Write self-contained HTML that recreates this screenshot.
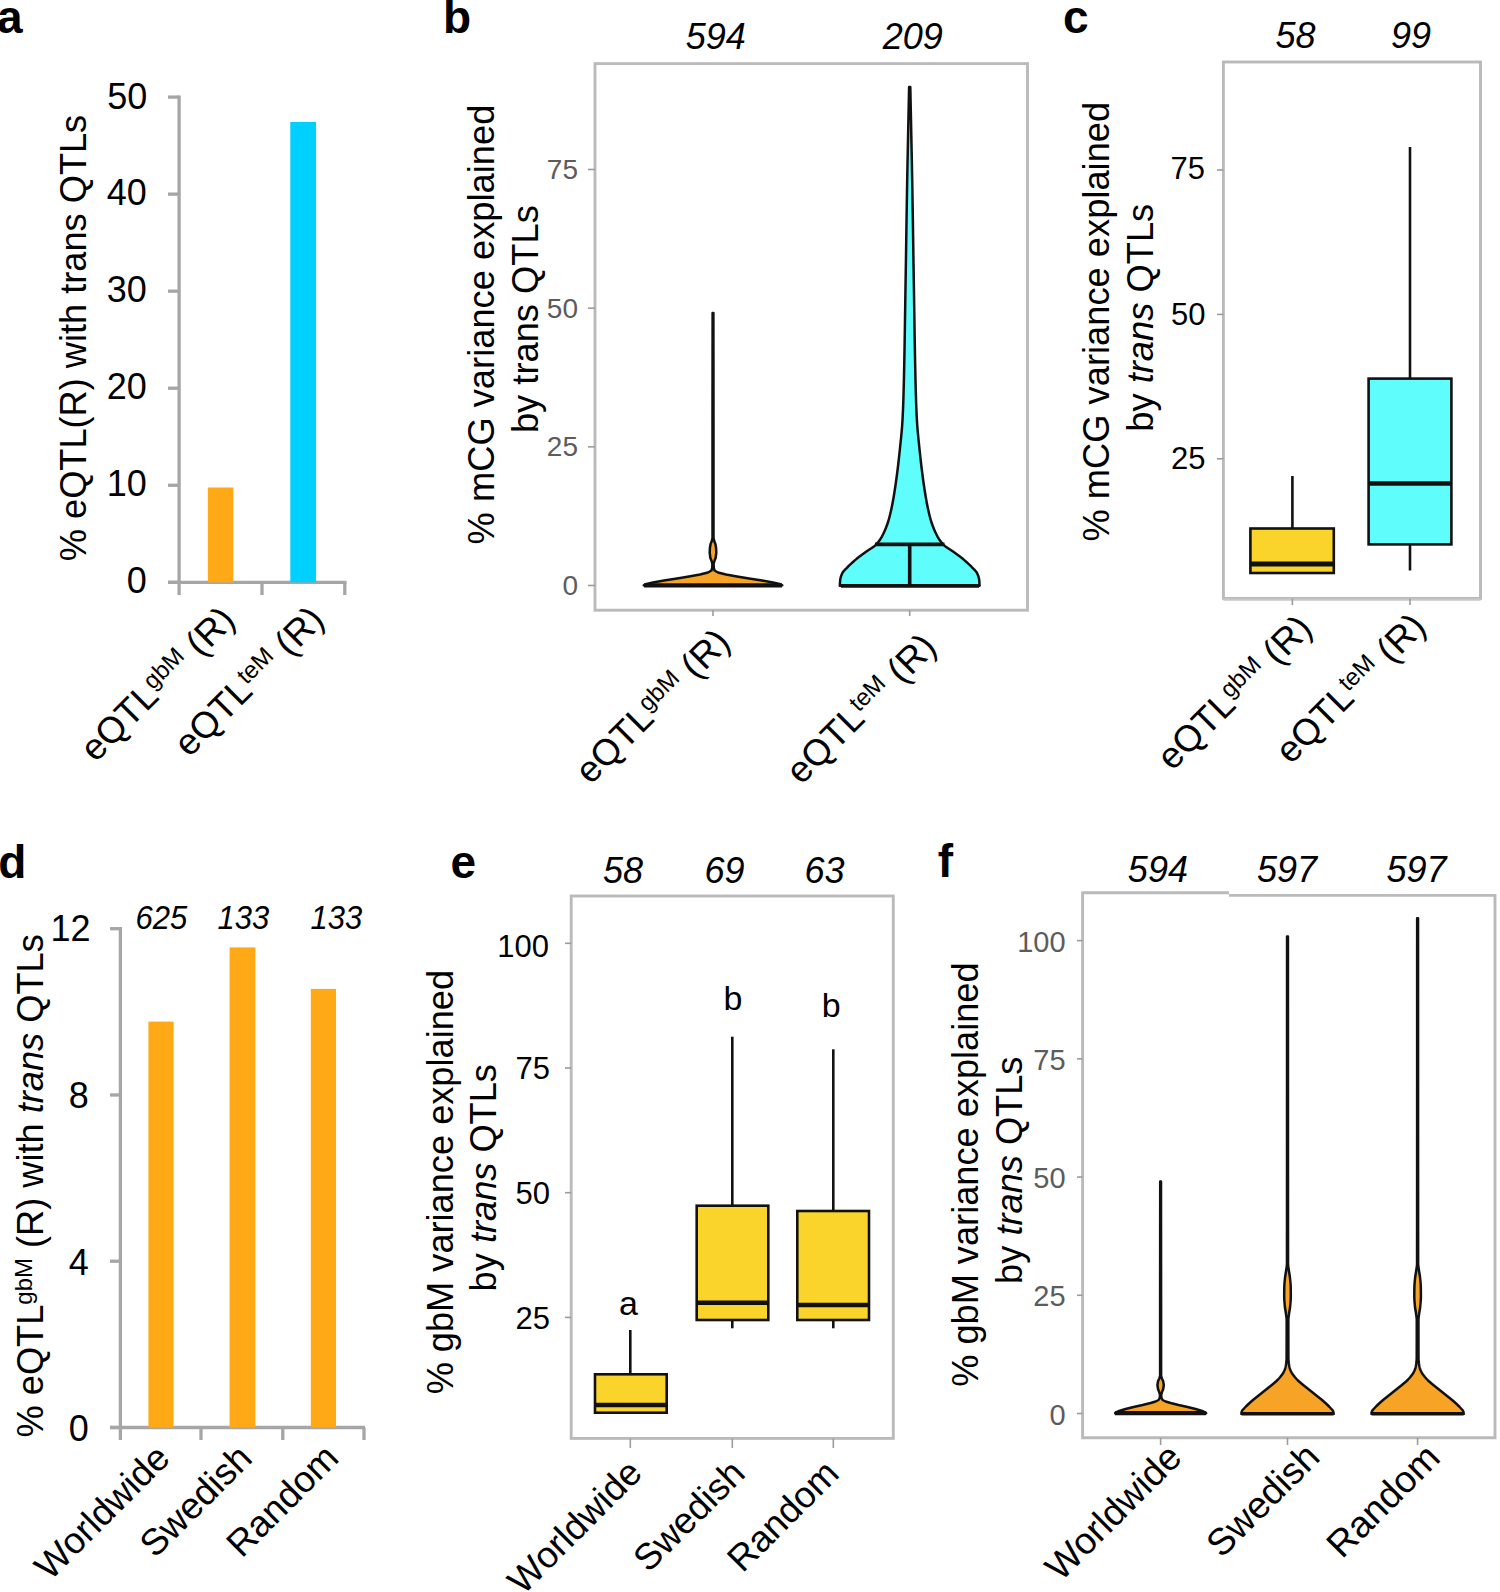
<!DOCTYPE html>
<html><head><meta charset="utf-8"><style>html,body{margin:0;padding:0;background:#fff;overflow:hidden}svg{display:block}</style></head>
<body>
<svg width="1500" height="1592" viewBox="0 0 1500 1592" font-family="Liberation Sans, sans-serif">
<rect width="1500" height="1592" fill="#fff"/>
<text id="t0" transform="translate(-3.00 33.00)" font-size="46" text-anchor="start" font-weight="bold" font-style="normal" fill="#000">a</text>
<text id="t1" transform="translate(443.00 33.00)" font-size="46" text-anchor="start" font-weight="bold" font-style="normal" fill="#000">b</text>
<text id="t2" transform="translate(1063.00 33.00)" font-size="46" text-anchor="start" font-weight="bold" font-style="normal" fill="#000">c</text>
<text id="t3" transform="translate(-1.80 878.40)" font-size="46" text-anchor="start" font-weight="bold" font-style="normal" fill="#000">d</text>
<text id="t4" transform="translate(450.55 878.40)" font-size="46" text-anchor="start" font-weight="bold" font-style="normal" fill="#000">e</text>
<text id="t5" transform="translate(937.80 877.00)" font-size="46" text-anchor="start" font-weight="bold" font-style="normal" fill="#000">f</text>
<line x1="179.1" y1="95.5" x2="179.1" y2="582.3" stroke="#a6a6a6" stroke-width="3.3" stroke-linecap="butt"/>
<line x1="168" y1="582.3" x2="179.1" y2="582.3" stroke="#a6a6a6" stroke-width="3.3" stroke-linecap="butt"/>
<line x1="168" y1="485.26" x2="179.1" y2="485.26" stroke="#a6a6a6" stroke-width="3.3" stroke-linecap="butt"/>
<line x1="168" y1="388.21999999999997" x2="179.1" y2="388.21999999999997" stroke="#a6a6a6" stroke-width="3.3" stroke-linecap="butt"/>
<line x1="168" y1="291.18" x2="179.1" y2="291.18" stroke="#a6a6a6" stroke-width="3.3" stroke-linecap="butt"/>
<line x1="168" y1="194.14" x2="179.1" y2="194.14" stroke="#a6a6a6" stroke-width="3.3" stroke-linecap="butt"/>
<line x1="168" y1="97.10000000000002" x2="179.1" y2="97.10000000000002" stroke="#a6a6a6" stroke-width="3.3" stroke-linecap="butt"/>
<text id="t6" transform="translate(146.80 593.40)" font-size="36" text-anchor="end" font-weight="normal" font-style="normal" fill="#000">0</text>
<text id="t7" transform="translate(146.80 496.36)" font-size="36" text-anchor="end" font-weight="normal" font-style="normal" fill="#000">10</text>
<text id="t8" transform="translate(146.80 399.32)" font-size="36" text-anchor="end" font-weight="normal" font-style="normal" fill="#000">20</text>
<text id="t9" transform="translate(146.80 302.28)" font-size="36" text-anchor="end" font-weight="normal" font-style="normal" fill="#000">30</text>
<text id="t10" transform="translate(146.80 205.24)" font-size="36" text-anchor="end" font-weight="normal" font-style="normal" fill="#000">40</text>
<text id="t11" transform="translate(147.40 108.70)" font-size="36" text-anchor="end" font-weight="normal" font-style="normal" fill="#000">50</text>
<line x1="168" y1="582.3" x2="346.5" y2="582.3" stroke="#a6a6a6" stroke-width="3.3" stroke-linecap="butt"/>
<line x1="179.1" y1="582.3" x2="179.1" y2="595" stroke="#a6a6a6" stroke-width="3.3" stroke-linecap="butt"/>
<line x1="262" y1="582.3" x2="262" y2="595" stroke="#a6a6a6" stroke-width="3.3" stroke-linecap="butt"/>
<line x1="344.8" y1="582.3" x2="344.8" y2="595" stroke="#a6a6a6" stroke-width="3.3" stroke-linecap="butt"/>
<rect x="207.8" y="487.5" width="25.6" height="94.79999999999995" fill="#ffa916" stroke="none" stroke-width="0"/>
<rect x="290.3" y="122" width="25.8" height="460.29999999999995" fill="#00d0ff" stroke="none" stroke-width="0"/>
<text id="t12" transform="translate(85.50 338.00) rotate(-90)" font-size="36.2" text-anchor="middle" font-weight="normal" font-style="normal" fill="#000">% eQTL(R) with trans QTLs</text>
<text id="t13" transform="translate(236.85 621.90) rotate(-45)" font-size="36.8" text-anchor="end" font-weight="normal" font-style="normal" fill="#000">eQTL<tspan font-size="24" dy="-11">gbM</tspan><tspan dy="11"> (R)</tspan></text>
<text id="t14" transform="translate(325.95 621.50) rotate(-45)" font-size="36.8" text-anchor="end" font-weight="normal" font-style="normal" fill="#000">eQTL<tspan font-size="24" dy="-11">teM</tspan><tspan dy="11"> (R)</tspan></text>
<rect x="595" y="63.6" width="432.5" height="546.6" fill="none" stroke="#bababa" stroke-width="2.9"/>
<line x1="588" y1="585.5" x2="595" y2="585.5" stroke="#9c9c9c" stroke-width="1.6" stroke-linecap="butt"/>
<text id="t15" transform="translate(578.00 595.00)" font-size="28" text-anchor="end" font-weight="normal" font-style="normal" fill="#5c5c5c">0</text>
<line x1="588" y1="446.83333333333337" x2="595" y2="446.83333333333337" stroke="#9c9c9c" stroke-width="1.6" stroke-linecap="butt"/>
<text id="t16" transform="translate(578.00 456.33)" font-size="28" text-anchor="end" font-weight="normal" font-style="normal" fill="#5c5c5c">25</text>
<line x1="588" y1="308.1666666666667" x2="595" y2="308.1666666666667" stroke="#9c9c9c" stroke-width="1.6" stroke-linecap="butt"/>
<text id="t17" transform="translate(578.00 317.67)" font-size="28" text-anchor="end" font-weight="normal" font-style="normal" fill="#5c5c5c">50</text>
<line x1="588" y1="169.5" x2="595" y2="169.5" stroke="#9c9c9c" stroke-width="1.6" stroke-linecap="butt"/>
<text id="t18" transform="translate(578.00 179.00)" font-size="28" text-anchor="end" font-weight="normal" font-style="normal" fill="#5c5c5c">75</text>
<line x1="713" y1="610.2" x2="713" y2="616" stroke="#9c9c9c" stroke-width="1.6" stroke-linecap="butt"/>
<line x1="909.7" y1="610.2" x2="909.7" y2="616" stroke="#9c9c9c" stroke-width="1.6" stroke-linecap="butt"/>
<text id="t19" transform="translate(715.75 48.75)" font-size="36" text-anchor="middle" font-weight="normal" font-style="italic" fill="#000">594</text>
<text id="t20" transform="translate(912.75 48.75)" font-size="36" text-anchor="middle" font-weight="normal" font-style="italic" fill="#000">209</text>
<text id="t21" transform="translate(494.00 324.50) rotate(-90)" font-size="36.3" text-anchor="middle" font-weight="normal" font-style="normal" fill="#000">% mCG variance explained</text>
<text id="t22" transform="translate(537.70 319.15) rotate(-90)" font-size="36.3" text-anchor="middle" font-weight="normal" font-style="normal" fill="#000">by trans QTLs</text>
<path d="M713.40,313.00 L713.50,420.00 L713.50,538.00 L714.20,541.00 L715.40,544.00 L716.10,548.00 L716.30,553.00 L715.60,558.00 L714.40,561.00 L713.60,564.00 L713.80,568.00 L714.60,570.50 L718.00,572.50 L726.00,574.50 L737.00,576.50 L749.00,578.50 L762.00,580.50 L773.00,582.50 L779.50,584.00 L782.30,585.30 L643.70,585.30 L646.50,584.00 L653.00,582.50 L664.00,580.50 L677.00,578.50 L689.00,576.50 L700.00,574.50 L708.00,572.50 L711.40,570.50 L712.20,568.00 L712.40,564.00 L711.60,561.00 L710.40,558.00 L709.70,553.00 L709.90,548.00 L710.60,544.00 L711.80,541.00 L712.50,538.00 L712.50,420.00 L712.60,313.00 Z" fill="#f6a326" stroke="#111" stroke-width="2.5" stroke-linejoin="round"/>
<path d="M910.30,87.00 L910.31,87.50 L910.32,88.00 L910.33,88.50 L910.34,89.00 L910.35,89.50 L910.36,90.00 L910.37,90.50 L910.38,91.00 L910.39,91.50 L910.40,92.00 L910.42,92.50 L910.43,93.00 L910.44,93.50 L910.45,94.00 L910.46,94.50 L910.47,95.00 L910.48,95.50 L910.49,96.00 L910.50,96.50 L910.51,97.00 L910.52,97.50 L910.53,98.00 L910.54,98.50 L910.55,99.00 L910.56,99.50 L910.57,100.00 L910.58,100.50 L910.59,101.00 L910.60,101.50 L910.62,102.00 L910.63,102.50 L910.64,103.00 L910.65,103.50 L910.66,104.00 L910.67,104.50 L910.68,105.00 L910.69,105.50 L910.70,106.00 L910.71,106.50 L910.72,107.00 L910.73,107.50 L910.74,108.00 L910.75,108.50 L910.76,109.00 L910.77,109.50 L910.78,110.00 L910.79,110.50 L910.81,111.00 L910.82,111.50 L910.83,112.00 L910.84,112.50 L910.85,113.00 L910.86,113.50 L910.87,114.00 L910.88,114.50 L910.89,115.00 L910.90,115.50 L910.91,116.00 L910.92,116.50 L910.93,117.00 L910.94,117.50 L910.95,118.00 L910.96,118.50 L910.97,119.00 L910.98,119.50 L910.99,120.00 L911.00,120.50 L911.01,121.00 L911.02,121.50 L911.04,122.00 L911.05,122.50 L911.06,123.00 L911.07,123.50 L911.08,124.00 L911.09,124.50 L911.10,125.00 L911.11,125.50 L911.12,126.00 L911.13,126.50 L911.14,127.00 L911.15,127.50 L911.16,128.00 L911.17,128.50 L911.18,129.00 L911.19,129.50 L911.20,130.00 L911.21,130.50 L911.22,131.00 L911.23,131.50 L911.24,132.00 L911.25,132.50 L911.26,133.00 L911.27,133.50 L911.28,134.00 L911.29,134.50 L911.30,135.00 L911.31,135.50 L911.32,136.00 L911.33,136.50 L911.34,137.00 L911.35,137.50 L911.36,138.00 L911.38,138.50 L911.39,139.00 L911.40,139.50 L911.41,140.00 L911.42,140.50 L911.43,141.00 L911.44,141.50 L911.45,142.00 L911.46,142.50 L911.47,143.00 L911.48,143.50 L911.49,144.00 L911.50,144.50 L911.51,145.00 L911.52,145.50 L911.53,146.00 L911.54,146.50 L911.55,147.00 L911.56,147.50 L911.57,148.00 L911.58,148.50 L911.59,149.00 L911.60,149.50 L911.61,150.00 L911.62,150.50 L911.63,151.00 L911.64,151.50 L911.65,152.00 L911.66,152.50 L911.68,153.00 L911.69,153.50 L911.70,154.00 L911.71,154.50 L911.72,155.00 L911.73,155.50 L911.74,156.00 L911.75,156.50 L911.76,157.00 L911.77,157.50 L911.78,158.00 L911.79,158.50 L911.80,159.00 L911.81,159.50 L911.82,160.00 L911.83,160.50 L911.84,161.00 L911.85,161.50 L911.86,162.00 L911.87,162.50 L911.88,163.00 L911.89,163.50 L911.90,164.00 L911.91,164.50 L911.92,165.00 L911.93,165.50 L911.94,166.00 L911.95,166.50 L911.96,167.00 L911.97,167.50 L911.98,168.00 L911.99,168.50 L911.99,169.00 L912.00,169.50 L912.01,170.00 L912.02,170.50 L912.03,171.00 L912.04,171.50 L912.05,172.00 L912.06,172.50 L912.07,173.00 L912.08,173.50 L912.09,174.00 L912.10,174.50 L912.11,175.00 L912.12,175.50 L912.13,176.00 L912.14,176.50 L912.15,177.00 L912.15,177.50 L912.16,178.00 L912.17,178.50 L912.18,179.00 L912.19,179.50 L912.20,180.00 L912.21,180.50 L912.22,181.00 L912.23,181.50 L912.24,182.00 L912.24,182.50 L912.25,183.00 L912.26,183.50 L912.27,184.00 L912.28,184.50 L912.29,185.00 L912.30,185.50 L912.31,186.00 L912.31,186.50 L912.32,187.00 L912.33,187.50 L912.34,188.00 L912.35,188.50 L912.36,189.00 L912.37,189.50 L912.37,190.00 L912.38,190.50 L912.39,191.00 L912.40,191.50 L912.41,192.00 L912.42,192.50 L912.42,193.00 L912.43,193.50 L912.44,194.00 L912.45,194.50 L912.46,195.00 L912.47,195.50 L912.47,196.00 L912.48,196.50 L912.49,197.00 L912.50,197.50 L912.51,198.00 L912.52,198.50 L912.52,199.00 L912.53,199.50 L912.54,200.00 L912.55,200.50 L912.56,201.00 L912.56,201.50 L912.57,202.00 L912.58,202.50 L912.59,203.00 L912.60,203.50 L912.60,204.00 L912.61,204.50 L912.62,205.00 L912.63,205.50 L912.64,206.00 L912.64,206.50 L912.65,207.00 L912.66,207.50 L912.67,208.00 L912.68,208.50 L912.68,209.00 L912.69,209.50 L912.70,210.00 L912.71,210.50 L912.72,211.00 L912.72,211.50 L912.73,212.00 L912.74,212.50 L912.75,213.00 L912.75,213.50 L912.76,214.00 L912.77,214.50 L912.78,215.00 L912.79,215.50 L912.79,216.00 L912.80,216.50 L912.81,217.00 L912.82,217.50 L912.82,218.00 L912.83,218.50 L912.84,219.00 L912.85,219.50 L912.85,220.00 L912.86,220.50 L912.87,221.00 L912.88,221.50 L912.88,222.00 L912.89,222.50 L912.90,223.00 L912.91,223.50 L912.92,224.00 L912.92,224.50 L912.93,225.00 L912.94,225.50 L912.95,226.00 L912.95,226.50 L912.96,227.00 L912.97,227.50 L912.98,228.00 L912.98,228.50 L912.99,229.00 L913.00,229.50 L913.01,230.00 L913.01,230.50 L913.02,231.00 L913.03,231.50 L913.04,232.00 L913.04,232.50 L913.05,233.00 L913.06,233.50 L913.07,234.00 L913.07,234.50 L913.08,235.00 L913.09,235.50 L913.10,236.00 L913.10,236.50 L913.11,237.00 L913.12,237.50 L913.13,238.00 L913.13,238.50 L913.14,239.00 L913.15,239.50 L913.16,240.00 L913.16,240.50 L913.17,241.00 L913.18,241.50 L913.19,242.00 L913.19,242.50 L913.20,243.00 L913.21,243.50 L913.22,244.00 L913.22,244.50 L913.23,245.00 L913.24,245.50 L913.25,246.00 L913.25,246.50 L913.26,247.00 L913.27,247.50 L913.28,248.00 L913.28,248.50 L913.29,249.00 L913.30,249.50 L913.31,250.00 L913.32,250.50 L913.32,251.00 L913.33,251.50 L913.34,252.00 L913.35,252.50 L913.35,253.00 L913.36,253.50 L913.37,254.00 L913.38,254.50 L913.38,255.00 L913.39,255.50 L913.40,256.00 L913.41,256.50 L913.41,257.00 L913.42,257.50 L913.43,258.00 L913.44,258.50 L913.45,259.00 L913.45,259.50 L913.46,260.00 L913.47,260.50 L913.48,261.00 L913.48,261.50 L913.49,262.00 L913.50,262.50 L913.51,263.00 L913.52,263.50 L913.52,264.00 L913.53,264.50 L913.54,265.00 L913.55,265.50 L913.56,266.00 L913.56,266.50 L913.57,267.00 L913.58,267.50 L913.59,268.00 L913.60,268.50 L913.60,269.00 L913.61,269.50 L913.62,270.00 L913.63,270.50 L913.64,271.00 L913.64,271.50 L913.65,272.00 L913.66,272.50 L913.67,273.00 L913.68,273.50 L913.68,274.00 L913.69,274.50 L913.70,275.00 L913.71,275.50 L913.72,276.00 L913.72,276.50 L913.73,277.00 L913.74,277.50 L913.75,278.00 L913.76,278.50 L913.77,279.00 L913.77,279.50 L913.78,280.00 L913.79,280.50 L913.80,281.00 L913.81,281.50 L913.82,282.00 L913.83,282.50 L913.83,283.00 L913.84,283.50 L913.85,284.00 L913.86,284.50 L913.87,285.00 L913.87,285.50 L913.88,286.00 L913.89,286.50 L913.90,287.00 L913.91,287.50 L913.92,288.00 L913.92,288.50 L913.93,289.00 L913.94,289.50 L913.95,290.00 L913.96,290.50 L913.96,291.00 L913.97,291.50 L913.98,292.00 L913.99,292.50 L913.99,293.00 L914.00,293.50 L914.01,294.00 L914.02,294.50 L914.03,295.00 L914.03,295.50 L914.04,296.00 L914.05,296.50 L914.06,297.00 L914.07,297.50 L914.07,298.00 L914.08,298.50 L914.09,299.00 L914.10,299.50 L914.10,300.00 L914.11,300.50 L914.12,301.00 L914.13,301.50 L914.13,302.00 L914.14,302.50 L914.15,303.00 L914.16,303.50 L914.16,304.00 L914.17,304.50 L914.18,305.00 L914.19,305.50 L914.20,306.00 L914.20,306.50 L914.21,307.00 L914.22,307.50 L914.23,308.00 L914.23,308.50 L914.24,309.00 L914.25,309.50 L914.26,310.00 L914.26,310.50 L914.27,311.00 L914.28,311.50 L914.29,312.00 L914.29,312.50 L914.30,313.00 L914.31,313.50 L914.32,314.00 L914.32,314.50 L914.33,315.00 L914.34,315.50 L914.35,316.00 L914.35,316.50 L914.36,317.00 L914.37,317.50 L914.38,318.00 L914.38,318.50 L914.39,319.00 L914.40,319.50 L914.41,320.00 L914.41,320.50 L914.42,321.00 L914.43,321.50 L914.44,322.00 L914.44,322.50 L914.45,323.00 L914.46,323.50 L914.47,324.00 L914.48,324.50 L914.48,325.00 L914.49,325.50 L914.50,326.00 L914.51,326.50 L914.51,327.00 L914.52,327.50 L914.53,328.00 L914.54,328.50 L914.54,329.00 L914.55,329.50 L914.56,330.00 L914.57,330.50 L914.58,331.00 L914.58,331.50 L914.59,332.00 L914.60,332.50 L914.61,333.00 L914.62,333.50 L914.62,334.00 L914.63,334.50 L914.64,335.00 L914.65,335.50 L914.66,336.00 L914.66,336.50 L914.67,337.00 L914.68,337.50 L914.69,338.00 L914.70,338.50 L914.70,339.00 L914.71,339.50 L914.72,340.00 L914.73,340.50 L914.74,341.00 L914.75,341.50 L914.75,342.00 L914.76,342.50 L914.77,343.00 L914.78,343.50 L914.79,344.00 L914.80,344.50 L914.80,345.00 L914.81,345.50 L914.82,346.00 L914.83,346.50 L914.84,347.00 L914.85,347.50 L914.86,348.00 L914.86,348.50 L914.87,349.00 L914.88,349.50 L914.89,350.00 L914.90,350.50 L914.91,351.00 L914.92,351.50 L914.93,352.00 L914.94,352.50 L914.94,353.00 L914.95,353.50 L914.96,354.00 L914.97,354.50 L914.98,355.00 L914.99,355.50 L915.00,356.00 L915.01,356.50 L915.02,357.00 L915.03,357.50 L915.04,358.00 L915.05,358.50 L915.06,359.00 L915.07,359.50 L915.08,360.00 L915.09,360.50 L915.09,361.00 L915.10,361.50 L915.11,362.00 L915.12,362.50 L915.13,363.00 L915.14,363.50 L915.15,364.00 L915.16,364.50 L915.17,365.00 L915.18,365.50 L915.19,366.00 L915.20,366.50 L915.21,367.00 L915.22,367.50 L915.24,368.00 L915.25,368.50 L915.26,369.00 L915.27,369.50 L915.28,370.00 L915.29,370.50 L915.30,371.00 L915.31,371.50 L915.32,372.00 L915.33,372.50 L915.34,373.00 L915.35,373.50 L915.36,374.00 L915.37,374.50 L915.39,375.00 L915.40,375.50 L915.41,376.00 L915.42,376.50 L915.43,377.00 L915.44,377.50 L915.45,378.00 L915.46,378.50 L915.48,379.00 L915.49,379.50 L915.50,380.00 L915.51,380.50 L915.52,381.00 L915.54,381.50 L915.55,382.00 L915.56,382.50 L915.57,383.00 L915.58,383.50 L915.60,384.00 L915.61,384.50 L915.62,385.00 L915.63,385.50 L915.65,386.00 L915.66,386.50 L915.67,387.00 L915.68,387.50 L915.70,388.00 L915.71,388.50 L915.72,389.00 L915.73,389.50 L915.75,390.00 L915.76,390.50 L915.77,391.00 L915.79,391.50 L915.80,392.00 L915.81,392.50 L915.83,393.00 L915.84,393.50 L915.85,394.00 L915.87,394.50 L915.88,395.00 L915.90,395.50 L915.91,396.00 L915.93,396.50 L915.94,397.00 L915.96,397.50 L915.97,398.00 L915.99,398.50 L916.01,399.00 L916.02,399.50 L916.04,400.00 L916.05,400.50 L916.07,401.00 L916.09,401.50 L916.11,402.00 L916.12,402.50 L916.14,403.00 L916.16,403.50 L916.18,404.00 L916.20,404.50 L916.21,405.00 L916.23,405.50 L916.25,406.00 L916.27,406.50 L916.29,407.00 L916.31,407.50 L916.33,408.00 L916.35,408.50 L916.37,409.00 L916.39,409.50 L916.42,410.00 L916.44,410.50 L916.46,411.00 L916.48,411.50 L916.50,412.00 L916.53,412.50 L916.55,413.00 L916.57,413.50 L916.60,414.00 L916.62,414.50 L916.64,415.00 L916.67,415.50 L916.69,416.00 L916.72,416.50 L916.74,417.00 L916.77,417.50 L916.79,418.00 L916.82,418.50 L916.85,419.00 L916.87,419.50 L916.90,420.00 L916.93,420.50 L916.96,421.00 L916.99,421.50 L917.02,422.00 L917.05,422.50 L917.08,423.00 L917.11,423.50 L917.15,424.00 L917.18,424.50 L917.22,425.00 L917.25,425.50 L917.29,426.00 L917.33,426.50 L917.37,427.00 L917.41,427.50 L917.45,428.00 L917.49,428.50 L917.53,429.00 L917.57,429.50 L917.61,430.00 L917.66,430.50 L917.70,431.00 L917.75,431.50 L917.79,432.00 L917.84,432.50 L917.88,433.00 L917.93,433.50 L917.98,434.00 L918.02,434.50 L918.07,435.00 L918.12,435.50 L918.17,436.00 L918.22,436.50 L918.26,437.00 L918.31,437.50 L918.36,438.00 L918.41,438.50 L918.46,439.00 L918.52,439.50 L918.57,440.00 L918.62,440.50 L918.67,441.00 L918.72,441.50 L918.77,442.00 L918.82,442.50 L918.88,443.00 L918.93,443.50 L918.98,444.00 L919.03,444.50 L919.08,445.00 L919.14,445.50 L919.19,446.00 L919.24,446.50 L919.29,447.00 L919.34,447.50 L919.40,448.00 L919.45,448.50 L919.50,449.00 L919.55,449.50 L919.60,450.00 L919.66,450.50 L919.71,451.00 L919.76,451.50 L919.81,452.00 L919.87,452.50 L919.92,453.00 L919.97,453.50 L920.03,454.00 L920.08,454.50 L920.13,455.00 L920.19,455.50 L920.24,456.00 L920.30,456.50 L920.35,457.00 L920.40,457.50 L920.46,458.00 L920.51,458.50 L920.57,459.00 L920.63,459.50 L920.68,460.00 L920.74,460.50 L920.79,461.00 L920.85,461.50 L920.91,462.00 L920.97,462.50 L921.02,463.00 L921.08,463.50 L921.14,464.00 L921.20,464.50 L921.25,465.00 L921.31,465.50 L921.37,466.00 L921.43,466.50 L921.49,467.00 L921.55,467.50 L921.61,468.00 L921.67,468.50 L921.73,469.00 L921.79,469.50 L921.86,470.00 L921.92,470.50 L921.98,471.00 L922.04,471.50 L922.11,472.00 L922.17,472.50 L922.23,473.00 L922.30,473.50 L922.36,474.00 L922.42,474.50 L922.49,475.00 L922.55,475.50 L922.62,476.00 L922.69,476.50 L922.75,477.00 L922.82,477.50 L922.89,478.00 L922.95,478.50 L923.02,479.00 L923.09,479.50 L923.16,480.00 L923.23,480.50 L923.30,481.00 L923.37,481.50 L923.44,482.00 L923.51,482.50 L923.58,483.00 L923.65,483.50 L923.72,484.00 L923.80,484.50 L923.87,485.00 L923.94,485.50 L924.02,486.00 L924.09,486.50 L924.16,487.00 L924.24,487.50 L924.31,488.00 L924.39,488.50 L924.47,489.00 L924.54,489.50 L924.62,490.00 L924.70,490.50 L924.78,491.00 L924.86,491.50 L924.94,492.00 L925.02,492.50 L925.10,493.00 L925.18,493.50 L925.26,494.00 L925.34,494.50 L925.42,495.00 L925.50,495.50 L925.59,496.00 L925.67,496.50 L925.75,497.00 L925.84,497.50 L925.92,498.00 L926.01,498.50 L926.10,499.00 L926.19,499.50 L926.27,500.00 L926.36,500.50 L926.45,501.00 L926.54,501.50 L926.64,502.00 L926.73,502.50 L926.82,503.00 L926.92,503.50 L927.01,504.00 L927.11,504.50 L927.21,505.00 L927.31,505.50 L927.41,506.00 L927.51,506.50 L927.61,507.00 L927.71,507.50 L927.82,508.00 L927.92,508.50 L928.03,509.00 L928.14,509.50 L928.25,510.00 L928.36,510.50 L928.47,511.00 L928.59,511.50 L928.70,512.00 L928.82,512.50 L928.94,513.00 L929.06,513.50 L929.18,514.00 L929.30,514.50 L929.42,515.00 L929.55,515.50 L929.68,516.00 L929.80,516.50 L929.93,517.00 L930.07,517.50 L930.20,518.00 L930.34,518.50 L930.48,519.00 L930.62,519.50 L930.76,520.00 L930.91,520.50 L931.06,521.00 L931.22,521.50 L931.38,522.00 L931.54,522.50 L931.70,523.00 L931.87,523.50 L932.04,524.00 L932.21,524.50 L932.39,525.00 L932.57,525.50 L932.76,526.00 L932.95,526.50 L933.14,527.00 L933.33,527.50 L933.53,528.00 L933.73,528.50 L933.94,529.00 L934.15,529.50 L934.36,530.00 L934.58,530.50 L934.80,531.00 L935.02,531.50 L935.25,532.00 L935.48,532.50 L935.72,533.00 L935.96,533.50 L936.20,534.00 L936.45,534.50 L936.70,535.00 L936.97,535.52 L937.24,536.04 L937.53,536.57 L937.82,537.09 L938.13,537.61 L938.44,538.13 L938.77,538.66 L939.10,539.18 L939.45,539.70 L939.81,540.22 L940.18,540.74 L940.57,541.27 L940.97,541.79 L941.38,542.31 L941.81,542.83 L942.26,543.36 L942.72,543.88 L943.20,544.40 L943.70,544.91 L944.26,545.41 L944.87,545.92 L945.52,546.43 L946.21,546.93 L946.93,547.44 L947.68,547.95 L948.44,548.45 L949.21,548.96 L949.99,549.47 L950.76,549.97 L951.52,550.48 L952.27,550.99 L953.00,551.49 L953.70,552.00 L954.38,552.51 L955.07,553.01 L955.76,553.52 L956.45,554.03 L957.14,554.53 L957.83,555.04 L958.51,555.55 L959.19,556.05 L959.86,556.56 L960.53,557.07 L961.19,557.57 L961.83,558.08 L962.47,558.59 L963.09,559.09 L963.70,559.60 L964.32,560.13 L964.94,560.66 L965.55,561.19 L966.15,561.71 L966.75,562.24 L967.34,562.77 L967.91,563.30 L968.48,563.83 L969.04,564.36 L969.60,564.89 L970.14,565.41 L970.67,565.94 L971.19,566.47 L971.70,567.00 L972.22,567.53 L972.75,568.07 L973.28,568.60 L973.82,569.13 L974.34,569.67 L974.85,570.20 L975.34,570.73 L975.80,571.27 L976.22,571.80 L976.60,572.33 L976.93,572.87 L977.20,573.40 L977.42,573.91 L977.64,574.42 L977.85,574.92 L978.04,575.43 L978.23,575.94 L978.40,576.45 L978.56,576.95 L978.70,577.46 L978.83,577.97 L978.95,578.48 L979.05,578.98 L979.13,579.49 L979.20,580.00 L979.25,580.53 L979.30,581.05 L979.34,581.58 L979.38,582.11 L979.41,582.64 L979.45,583.16 L979.47,583.69 L979.50,584.22 L979.53,584.75 L979.57,585.27 L979.60,585.80 L839.80,585.80 L839.83,585.27 L839.87,584.75 L839.90,584.22 L839.93,583.69 L839.95,583.16 L839.99,582.64 L840.02,582.11 L840.06,581.58 L840.10,581.05 L840.15,580.53 L840.20,580.00 L840.27,579.49 L840.35,578.98 L840.45,578.48 L840.57,577.97 L840.70,577.46 L840.84,576.95 L841.00,576.45 L841.17,575.94 L841.36,575.43 L841.55,574.92 L841.76,574.42 L841.98,573.91 L842.20,573.40 L842.47,572.87 L842.80,572.33 L843.18,571.80 L843.60,571.27 L844.06,570.73 L844.55,570.20 L845.06,569.67 L845.58,569.13 L846.12,568.60 L846.65,568.07 L847.18,567.53 L847.70,567.00 L848.21,566.47 L848.73,565.94 L849.26,565.41 L849.80,564.89 L850.36,564.36 L850.92,563.83 L851.49,563.30 L852.06,562.77 L852.65,562.24 L853.25,561.71 L853.85,561.19 L854.46,560.66 L855.08,560.13 L855.70,559.60 L856.31,559.09 L856.93,558.59 L857.57,558.08 L858.21,557.57 L858.87,557.07 L859.54,556.56 L860.21,556.05 L860.89,555.55 L861.57,555.04 L862.26,554.53 L862.95,554.03 L863.64,553.52 L864.33,553.01 L865.02,552.51 L865.70,552.00 L866.40,551.49 L867.13,550.99 L867.88,550.48 L868.64,549.97 L869.41,549.47 L870.19,548.96 L870.96,548.45 L871.72,547.95 L872.47,547.44 L873.19,546.93 L873.88,546.43 L874.53,545.92 L875.14,545.41 L875.70,544.91 L876.20,544.40 L876.68,543.88 L877.14,543.36 L877.59,542.83 L878.02,542.31 L878.43,541.79 L878.83,541.27 L879.22,540.74 L879.59,540.22 L879.95,539.70 L880.30,539.18 L880.63,538.66 L880.96,538.13 L881.27,537.61 L881.58,537.09 L881.87,536.57 L882.16,536.04 L882.43,535.52 L882.70,535.00 L882.95,534.50 L883.20,534.00 L883.44,533.50 L883.68,533.00 L883.92,532.50 L884.15,532.00 L884.38,531.50 L884.60,531.00 L884.82,530.50 L885.04,530.00 L885.25,529.50 L885.46,529.00 L885.67,528.50 L885.87,528.00 L886.07,527.50 L886.26,527.00 L886.45,526.50 L886.64,526.00 L886.83,525.50 L887.01,525.00 L887.19,524.50 L887.36,524.00 L887.53,523.50 L887.70,523.00 L887.86,522.50 L888.02,522.00 L888.18,521.50 L888.34,521.00 L888.49,520.50 L888.64,520.00 L888.78,519.50 L888.92,519.00 L889.06,518.50 L889.20,518.00 L889.33,517.50 L889.47,517.00 L889.60,516.50 L889.72,516.00 L889.85,515.50 L889.98,515.00 L890.10,514.50 L890.22,514.00 L890.34,513.50 L890.46,513.00 L890.58,512.50 L890.70,512.00 L890.81,511.50 L890.93,511.00 L891.04,510.50 L891.15,510.00 L891.26,509.50 L891.37,509.00 L891.48,508.50 L891.58,508.00 L891.69,507.50 L891.79,507.00 L891.89,506.50 L891.99,506.00 L892.09,505.50 L892.19,505.00 L892.29,504.50 L892.39,504.00 L892.48,503.50 L892.58,503.00 L892.67,502.50 L892.76,502.00 L892.86,501.50 L892.95,501.00 L893.04,500.50 L893.13,500.00 L893.21,499.50 L893.30,499.00 L893.39,498.50 L893.48,498.00 L893.56,497.50 L893.65,497.00 L893.73,496.50 L893.81,496.00 L893.90,495.50 L893.98,495.00 L894.06,494.50 L894.14,494.00 L894.22,493.50 L894.30,493.00 L894.38,492.50 L894.46,492.00 L894.54,491.50 L894.62,491.00 L894.70,490.50 L894.78,490.00 L894.86,489.50 L894.93,489.00 L895.01,488.50 L895.09,488.00 L895.16,487.50 L895.24,487.00 L895.31,486.50 L895.38,486.00 L895.46,485.50 L895.53,485.00 L895.60,484.50 L895.68,484.00 L895.75,483.50 L895.82,483.00 L895.89,482.50 L895.96,482.00 L896.03,481.50 L896.10,481.00 L896.17,480.50 L896.24,480.00 L896.31,479.50 L896.38,479.00 L896.45,478.50 L896.51,478.00 L896.58,477.50 L896.65,477.00 L896.71,476.50 L896.78,476.00 L896.85,475.50 L896.91,475.00 L896.98,474.50 L897.04,474.00 L897.10,473.50 L897.17,473.00 L897.23,472.50 L897.29,472.00 L897.36,471.50 L897.42,471.00 L897.48,470.50 L897.54,470.00 L897.61,469.50 L897.67,469.00 L897.73,468.50 L897.79,468.00 L897.85,467.50 L897.91,467.00 L897.97,466.50 L898.03,466.00 L898.09,465.50 L898.15,465.00 L898.20,464.50 L898.26,464.00 L898.32,463.50 L898.38,463.00 L898.43,462.50 L898.49,462.00 L898.55,461.50 L898.61,461.00 L898.66,460.50 L898.72,460.00 L898.77,459.50 L898.83,459.00 L898.89,458.50 L898.94,458.00 L899.00,457.50 L899.05,457.00 L899.10,456.50 L899.16,456.00 L899.21,455.50 L899.27,455.00 L899.32,454.50 L899.37,454.00 L899.43,453.50 L899.48,453.00 L899.53,452.50 L899.59,452.00 L899.64,451.50 L899.69,451.00 L899.74,450.50 L899.80,450.00 L899.85,449.50 L899.90,449.00 L899.95,448.50 L900.00,448.00 L900.06,447.50 L900.11,447.00 L900.16,446.50 L900.21,446.00 L900.26,445.50 L900.32,445.00 L900.37,444.50 L900.42,444.00 L900.47,443.50 L900.52,443.00 L900.58,442.50 L900.63,442.00 L900.68,441.50 L900.73,441.00 L900.78,440.50 L900.83,440.00 L900.88,439.50 L900.94,439.00 L900.99,438.50 L901.04,438.00 L901.09,437.50 L901.14,437.00 L901.18,436.50 L901.23,436.00 L901.28,435.50 L901.33,435.00 L901.38,434.50 L901.42,434.00 L901.47,433.50 L901.52,433.00 L901.56,432.50 L901.61,432.00 L901.65,431.50 L901.70,431.00 L901.74,430.50 L901.79,430.00 L901.83,429.50 L901.87,429.00 L901.91,428.50 L901.95,428.00 L901.99,427.50 L902.03,427.00 L902.07,426.50 L902.11,426.00 L902.15,425.50 L902.18,425.00 L902.22,424.50 L902.25,424.00 L902.29,423.50 L902.32,423.00 L902.35,422.50 L902.38,422.00 L902.41,421.50 L902.44,421.00 L902.47,420.50 L902.50,420.00 L902.53,419.50 L902.55,419.00 L902.58,418.50 L902.61,418.00 L902.63,417.50 L902.66,417.00 L902.68,416.50 L902.71,416.00 L902.73,415.50 L902.76,415.00 L902.78,414.50 L902.80,414.00 L902.83,413.50 L902.85,413.00 L902.87,412.50 L902.90,412.00 L902.92,411.50 L902.94,411.00 L902.96,410.50 L902.98,410.00 L903.01,409.50 L903.03,409.00 L903.05,408.50 L903.07,408.00 L903.09,407.50 L903.11,407.00 L903.13,406.50 L903.15,406.00 L903.17,405.50 L903.19,405.00 L903.20,404.50 L903.22,404.00 L903.24,403.50 L903.26,403.00 L903.28,402.50 L903.29,402.00 L903.31,401.50 L903.33,401.00 L903.35,400.50 L903.36,400.00 L903.38,399.50 L903.39,399.00 L903.41,398.50 L903.43,398.00 L903.44,397.50 L903.46,397.00 L903.47,396.50 L903.49,396.00 L903.50,395.50 L903.52,395.00 L903.53,394.50 L903.55,394.00 L903.56,393.50 L903.57,393.00 L903.59,392.50 L903.60,392.00 L903.61,391.50 L903.63,391.00 L903.64,390.50 L903.65,390.00 L903.67,389.50 L903.68,389.00 L903.69,388.50 L903.70,388.00 L903.72,387.50 L903.73,387.00 L903.74,386.50 L903.75,386.00 L903.77,385.50 L903.78,385.00 L903.79,384.50 L903.80,384.00 L903.82,383.50 L903.83,383.00 L903.84,382.50 L903.85,382.00 L903.86,381.50 L903.88,381.00 L903.89,380.50 L903.90,380.00 L903.91,379.50 L903.92,379.00 L903.94,378.50 L903.95,378.00 L903.96,377.50 L903.97,377.00 L903.98,376.50 L903.99,376.00 L904.00,375.50 L904.01,375.00 L904.03,374.50 L904.04,374.00 L904.05,373.50 L904.06,373.00 L904.07,372.50 L904.08,372.00 L904.09,371.50 L904.10,371.00 L904.11,370.50 L904.12,370.00 L904.13,369.50 L904.14,369.00 L904.15,368.50 L904.16,368.00 L904.18,367.50 L904.19,367.00 L904.20,366.50 L904.21,366.00 L904.22,365.50 L904.23,365.00 L904.24,364.50 L904.25,364.00 L904.26,363.50 L904.27,363.00 L904.28,362.50 L904.29,362.00 L904.30,361.50 L904.31,361.00 L904.31,360.50 L904.32,360.00 L904.33,359.50 L904.34,359.00 L904.35,358.50 L904.36,358.00 L904.37,357.50 L904.38,357.00 L904.39,356.50 L904.40,356.00 L904.41,355.50 L904.42,355.00 L904.43,354.50 L904.44,354.00 L904.45,353.50 L904.46,353.00 L904.46,352.50 L904.47,352.00 L904.48,351.50 L904.49,351.00 L904.50,350.50 L904.51,350.00 L904.52,349.50 L904.53,349.00 L904.54,348.50 L904.54,348.00 L904.55,347.50 L904.56,347.00 L904.57,346.50 L904.58,346.00 L904.59,345.50 L904.60,345.00 L904.60,344.50 L904.61,344.00 L904.62,343.50 L904.63,343.00 L904.64,342.50 L904.65,342.00 L904.65,341.50 L904.66,341.00 L904.67,340.50 L904.68,340.00 L904.69,339.50 L904.70,339.00 L904.70,338.50 L904.71,338.00 L904.72,337.50 L904.73,337.00 L904.74,336.50 L904.74,336.00 L904.75,335.50 L904.76,335.00 L904.77,334.50 L904.78,334.00 L904.78,333.50 L904.79,333.00 L904.80,332.50 L904.81,332.00 L904.82,331.50 L904.82,331.00 L904.83,330.50 L904.84,330.00 L904.85,329.50 L904.86,329.00 L904.86,328.50 L904.87,328.00 L904.88,327.50 L904.89,327.00 L904.89,326.50 L904.90,326.00 L904.91,325.50 L904.92,325.00 L904.92,324.50 L904.93,324.00 L904.94,323.50 L904.95,323.00 L904.96,322.50 L904.96,322.00 L904.97,321.50 L904.98,321.00 L904.99,320.50 L904.99,320.00 L905.00,319.50 L905.01,319.00 L905.02,318.50 L905.02,318.00 L905.03,317.50 L905.04,317.00 L905.05,316.50 L905.05,316.00 L905.06,315.50 L905.07,315.00 L905.08,314.50 L905.08,314.00 L905.09,313.50 L905.10,313.00 L905.11,312.50 L905.11,312.00 L905.12,311.50 L905.13,311.00 L905.14,310.50 L905.14,310.00 L905.15,309.50 L905.16,309.00 L905.17,308.50 L905.17,308.00 L905.18,307.50 L905.19,307.00 L905.20,306.50 L905.20,306.00 L905.21,305.50 L905.22,305.00 L905.23,304.50 L905.24,304.00 L905.24,303.50 L905.25,303.00 L905.26,302.50 L905.27,302.00 L905.27,301.50 L905.28,301.00 L905.29,300.50 L905.30,300.00 L905.30,299.50 L905.31,299.00 L905.32,298.50 L905.33,298.00 L905.33,297.50 L905.34,297.00 L905.35,296.50 L905.36,296.00 L905.37,295.50 L905.37,295.00 L905.38,294.50 L905.39,294.00 L905.40,293.50 L905.41,293.00 L905.41,292.50 L905.42,292.00 L905.43,291.50 L905.44,291.00 L905.44,290.50 L905.45,290.00 L905.46,289.50 L905.47,289.00 L905.48,288.50 L905.48,288.00 L905.49,287.50 L905.50,287.00 L905.51,286.50 L905.52,286.00 L905.53,285.50 L905.53,285.00 L905.54,284.50 L905.55,284.00 L905.56,283.50 L905.57,283.00 L905.57,282.50 L905.58,282.00 L905.59,281.50 L905.60,281.00 L905.61,280.50 L905.62,280.00 L905.63,279.50 L905.63,279.00 L905.64,278.50 L905.65,278.00 L905.66,277.50 L905.67,277.00 L905.68,276.50 L905.68,276.00 L905.69,275.50 L905.70,275.00 L905.71,274.50 L905.72,274.00 L905.72,273.50 L905.73,273.00 L905.74,272.50 L905.75,272.00 L905.76,271.50 L905.76,271.00 L905.77,270.50 L905.78,270.00 L905.79,269.50 L905.80,269.00 L905.80,268.50 L905.81,268.00 L905.82,267.50 L905.83,267.00 L905.84,266.50 L905.84,266.00 L905.85,265.50 L905.86,265.00 L905.87,264.50 L905.88,264.00 L905.88,263.50 L905.89,263.00 L905.90,262.50 L905.91,262.00 L905.92,261.50 L905.92,261.00 L905.93,260.50 L905.94,260.00 L905.95,259.50 L905.95,259.00 L905.96,258.50 L905.97,258.00 L905.98,257.50 L905.99,257.00 L905.99,256.50 L906.00,256.00 L906.01,255.50 L906.02,255.00 L906.02,254.50 L906.03,254.00 L906.04,253.50 L906.05,253.00 L906.05,252.50 L906.06,252.00 L906.07,251.50 L906.08,251.00 L906.08,250.50 L906.09,250.00 L906.10,249.50 L906.11,249.00 L906.12,248.50 L906.12,248.00 L906.13,247.50 L906.14,247.00 L906.15,246.50 L906.15,246.00 L906.16,245.50 L906.17,245.00 L906.18,244.50 L906.18,244.00 L906.19,243.50 L906.20,243.00 L906.21,242.50 L906.21,242.00 L906.22,241.50 L906.23,241.00 L906.24,240.50 L906.24,240.00 L906.25,239.50 L906.26,239.00 L906.27,238.50 L906.27,238.00 L906.28,237.50 L906.29,237.00 L906.30,236.50 L906.30,236.00 L906.31,235.50 L906.32,235.00 L906.33,234.50 L906.33,234.00 L906.34,233.50 L906.35,233.00 L906.36,232.50 L906.36,232.00 L906.37,231.50 L906.38,231.00 L906.39,230.50 L906.39,230.00 L906.40,229.50 L906.41,229.00 L906.42,228.50 L906.42,228.00 L906.43,227.50 L906.44,227.00 L906.45,226.50 L906.45,226.00 L906.46,225.50 L906.47,225.00 L906.48,224.50 L906.48,224.00 L906.49,223.50 L906.50,223.00 L906.51,222.50 L906.52,222.00 L906.52,221.50 L906.53,221.00 L906.54,220.50 L906.55,220.00 L906.55,219.50 L906.56,219.00 L906.57,218.50 L906.58,218.00 L906.58,217.50 L906.59,217.00 L906.60,216.50 L906.61,216.00 L906.61,215.50 L906.62,215.00 L906.63,214.50 L906.64,214.00 L906.65,213.50 L906.65,213.00 L906.66,212.50 L906.67,212.00 L906.68,211.50 L906.68,211.00 L906.69,210.50 L906.70,210.00 L906.71,209.50 L906.72,209.00 L906.72,208.50 L906.73,208.00 L906.74,207.50 L906.75,207.00 L906.76,206.50 L906.76,206.00 L906.77,205.50 L906.78,205.00 L906.79,204.50 L906.80,204.00 L906.80,203.50 L906.81,203.00 L906.82,202.50 L906.83,202.00 L906.84,201.50 L906.84,201.00 L906.85,200.50 L906.86,200.00 L906.87,199.50 L906.88,199.00 L906.88,198.50 L906.89,198.00 L906.90,197.50 L906.91,197.00 L906.92,196.50 L906.93,196.00 L906.93,195.50 L906.94,195.00 L906.95,194.50 L906.96,194.00 L906.97,193.50 L906.98,193.00 L906.98,192.50 L906.99,192.00 L907.00,191.50 L907.01,191.00 L907.02,190.50 L907.03,190.00 L907.03,189.50 L907.04,189.00 L907.05,188.50 L907.06,188.00 L907.07,187.50 L907.08,187.00 L907.09,186.50 L907.09,186.00 L907.10,185.50 L907.11,185.00 L907.12,184.50 L907.13,184.00 L907.14,183.50 L907.15,183.00 L907.16,182.50 L907.16,182.00 L907.17,181.50 L907.18,181.00 L907.19,180.50 L907.20,180.00 L907.21,179.50 L907.22,179.00 L907.23,178.50 L907.24,178.00 L907.25,177.50 L907.25,177.00 L907.26,176.50 L907.27,176.00 L907.28,175.50 L907.29,175.00 L907.30,174.50 L907.31,174.00 L907.32,173.50 L907.33,173.00 L907.34,172.50 L907.35,172.00 L907.36,171.50 L907.37,171.00 L907.38,170.50 L907.39,170.00 L907.40,169.50 L907.41,169.00 L907.41,168.50 L907.42,168.00 L907.43,167.50 L907.44,167.00 L907.45,166.50 L907.46,166.00 L907.47,165.50 L907.48,165.00 L907.49,164.50 L907.50,164.00 L907.51,163.50 L907.52,163.00 L907.53,162.50 L907.54,162.00 L907.55,161.50 L907.56,161.00 L907.57,160.50 L907.58,160.00 L907.59,159.50 L907.60,159.00 L907.61,158.50 L907.62,158.00 L907.63,157.50 L907.64,157.00 L907.65,156.50 L907.66,156.00 L907.67,155.50 L907.68,155.00 L907.69,154.50 L907.70,154.00 L907.71,153.50 L907.72,153.00 L907.74,152.50 L907.75,152.00 L907.76,151.50 L907.77,151.00 L907.78,150.50 L907.79,150.00 L907.80,149.50 L907.81,149.00 L907.82,148.50 L907.83,148.00 L907.84,147.50 L907.85,147.00 L907.86,146.50 L907.87,146.00 L907.88,145.50 L907.89,145.00 L907.90,144.50 L907.91,144.00 L907.92,143.50 L907.93,143.00 L907.94,142.50 L907.95,142.00 L907.96,141.50 L907.97,141.00 L907.98,140.50 L907.99,140.00 L908.00,139.50 L908.01,139.00 L908.02,138.50 L908.04,138.00 L908.05,137.50 L908.06,137.00 L908.07,136.50 L908.08,136.00 L908.09,135.50 L908.10,135.00 L908.11,134.50 L908.12,134.00 L908.13,133.50 L908.14,133.00 L908.15,132.50 L908.16,132.00 L908.17,131.50 L908.18,131.00 L908.19,130.50 L908.20,130.00 L908.21,129.50 L908.22,129.00 L908.23,128.50 L908.24,128.00 L908.25,127.50 L908.26,127.00 L908.27,126.50 L908.28,126.00 L908.29,125.50 L908.30,125.00 L908.31,124.50 L908.32,124.00 L908.33,123.50 L908.34,123.00 L908.35,122.50 L908.36,122.00 L908.38,121.50 L908.39,121.00 L908.40,120.50 L908.41,120.00 L908.42,119.50 L908.43,119.00 L908.44,118.50 L908.45,118.00 L908.46,117.50 L908.47,117.00 L908.48,116.50 L908.49,116.00 L908.50,115.50 L908.51,115.00 L908.52,114.50 L908.53,114.00 L908.54,113.50 L908.55,113.00 L908.56,112.50 L908.57,112.00 L908.58,111.50 L908.59,111.00 L908.61,110.50 L908.62,110.00 L908.63,109.50 L908.64,109.00 L908.65,108.50 L908.66,108.00 L908.67,107.50 L908.68,107.00 L908.69,106.50 L908.70,106.00 L908.71,105.50 L908.72,105.00 L908.73,104.50 L908.74,104.00 L908.75,103.50 L908.76,103.00 L908.77,102.50 L908.78,102.00 L908.80,101.50 L908.81,101.00 L908.82,100.50 L908.83,100.00 L908.84,99.50 L908.85,99.00 L908.86,98.50 L908.87,98.00 L908.88,97.50 L908.89,97.00 L908.90,96.50 L908.91,96.00 L908.92,95.50 L908.93,95.00 L908.94,94.50 L908.95,94.00 L908.96,93.50 L908.97,93.00 L908.98,92.50 L909.00,92.00 L909.01,91.50 L909.02,91.00 L909.03,90.50 L909.04,90.00 L909.05,89.50 L909.06,89.00 L909.07,88.50 L909.08,88.00 L909.09,87.50 L909.10,87.00 Z" fill="#60fdfd" stroke="#111" stroke-width="2.5" stroke-linejoin="round"/>
<line x1="875" y1="544.4" x2="944.5" y2="544.4" stroke="#111" stroke-width="3.6" stroke-linecap="butt"/>
<line x1="909.7" y1="544.4" x2="909.7" y2="585.8" stroke="#111" stroke-width="3.6" stroke-linecap="butt"/>
<line x1="841" y1="585.8" x2="979" y2="585.8" stroke="#111" stroke-width="3.8" stroke-linecap="butt"/>
<line x1="644" y1="585.3" x2="782" y2="585.3" stroke="#111" stroke-width="4.2" stroke-linecap="butt"/>
<text id="t23" transform="translate(732.00 644.00) rotate(-45)" font-size="36.8" text-anchor="end" font-weight="normal" font-style="normal" fill="#000">eQTL<tspan font-size="24" dy="-11">gbM</tspan><tspan dy="11"> (R)</tspan></text>
<text id="t24" transform="translate(938.10 648.95) rotate(-45)" font-size="36.8" text-anchor="end" font-weight="normal" font-style="normal" fill="#000">eQTL<tspan font-size="24" dy="-11">teM</tspan><tspan dy="11"> (R)</tspan></text>
<rect x="1223.4" y="62" width="257.0999999999999" height="536.4" fill="none" stroke="#bababa" stroke-width="2.9"/>
<line x1="1223.4" y1="599.6" x2="1480.5" y2="599.6" stroke="#c8c8c8" stroke-width="2.4" stroke-linecap="butt"/>
<line x1="1217" y1="458.79999999999995" x2="1223.4" y2="458.79999999999995" stroke="#9c9c9c" stroke-width="1.6" stroke-linecap="butt"/>
<text id="t25" transform="translate(1205.60 469.35)" font-size="31" text-anchor="end" font-weight="normal" font-style="normal" fill="#000">25</text>
<line x1="1217" y1="314.4" x2="1223.4" y2="314.4" stroke="#9c9c9c" stroke-width="1.6" stroke-linecap="butt"/>
<text id="t26" transform="translate(1205.60 325.15)" font-size="31" text-anchor="end" font-weight="normal" font-style="normal" fill="#000">50</text>
<line x1="1217" y1="170.0" x2="1223.4" y2="170.0" stroke="#9c9c9c" stroke-width="1.6" stroke-linecap="butt"/>
<text id="t27" transform="translate(1205.10 179.30)" font-size="31" text-anchor="end" font-weight="normal" font-style="normal" fill="#000">75</text>
<line x1="1292.4" y1="598.4" x2="1292.4" y2="605" stroke="#9c9c9c" stroke-width="1.6" stroke-linecap="butt"/>
<line x1="1410" y1="598.4" x2="1410" y2="605" stroke="#9c9c9c" stroke-width="1.6" stroke-linecap="butt"/>
<text id="t28" transform="translate(1295.50 48.25)" font-size="36" text-anchor="middle" font-weight="normal" font-style="italic" fill="#000">58</text>
<text id="t29" transform="translate(1411.00 48.25)" font-size="36" text-anchor="middle" font-weight="normal" font-style="italic" fill="#000">99</text>
<text id="t30" transform="translate(1109.00 321.65) rotate(-90)" font-size="36.3" text-anchor="middle" font-weight="normal" font-style="normal" fill="#000">% mCG variance explained</text>
<text id="t31" transform="translate(1152.70 317.75) rotate(-90)" font-size="36.3" text-anchor="middle" font-weight="normal" font-style="normal" fill="#000">by <tspan font-style="italic">trans</tspan> QTLs</text>
<line x1="1292.4" y1="476" x2="1292.4" y2="528.5" stroke="#111" stroke-width="2.6" stroke-linecap="butt"/>
<rect x="1250.4" y="528.5" width="83.4" height="44.5" fill="#fad42a" stroke="#111" stroke-width="2.6"/>
<line x1="1250.4" y1="564" x2="1333.8" y2="564" stroke="#111" stroke-width="5.2" stroke-linecap="butt"/>
<line x1="1410" y1="147" x2="1410" y2="378.6" stroke="#111" stroke-width="2.6" stroke-linecap="butt"/>
<line x1="1410" y1="544.4" x2="1410" y2="570.5" stroke="#111" stroke-width="2.6" stroke-linecap="butt"/>
<rect x="1368.6" y="378.6" width="82.8" height="165.8" fill="#60fdfd" stroke="#111" stroke-width="2.6"/>
<line x1="1368.6" y1="483.5" x2="1451.4" y2="483.5" stroke="#111" stroke-width="4.5" stroke-linecap="butt"/>
<text id="t32" transform="translate(1313.80 630.40) rotate(-45)" font-size="36.8" text-anchor="end" font-weight="normal" font-style="normal" fill="#000">eQTL<tspan font-size="24" dy="-11">gbM</tspan><tspan dy="11"> (R)</tspan></text>
<text id="t33" transform="translate(1427.55 628.50) rotate(-45)" font-size="36.8" text-anchor="end" font-weight="normal" font-style="normal" fill="#000">eQTL<tspan font-size="24" dy="-11">teM</tspan><tspan dy="11"> (R)</tspan></text>
<line x1="120.4" y1="927.1" x2="120.4" y2="1427.5" stroke="#a6a6a6" stroke-width="3.3" stroke-linecap="butt"/>
<line x1="110" y1="1427.5" x2="120.4" y2="1427.5" stroke="#a6a6a6" stroke-width="3.3" stroke-linecap="butt"/>
<line x1="110" y1="1261.2333333333333" x2="120.4" y2="1261.2333333333333" stroke="#a6a6a6" stroke-width="3.3" stroke-linecap="butt"/>
<line x1="110" y1="1094.9666666666667" x2="120.4" y2="1094.9666666666667" stroke="#a6a6a6" stroke-width="3.3" stroke-linecap="butt"/>
<line x1="110" y1="928.7" x2="120.4" y2="928.7" stroke="#a6a6a6" stroke-width="3.3" stroke-linecap="butt"/>
<text id="t34" transform="translate(88.80 1440.90)" font-size="36" text-anchor="end" font-weight="normal" font-style="normal" fill="#000">0</text>
<text id="t35" transform="translate(88.80 1274.63)" font-size="36" text-anchor="end" font-weight="normal" font-style="normal" fill="#000">4</text>
<text id="t36" transform="translate(88.80 1108.37)" font-size="36" text-anchor="end" font-weight="normal" font-style="normal" fill="#000">8</text>
<text id="t37" transform="translate(90.60 941.20)" font-size="36" text-anchor="end" font-weight="normal" font-style="normal" fill="#000">12</text>
<line x1="110" y1="1427.5" x2="365" y2="1427.5" stroke="#a6a6a6" stroke-width="3.3" stroke-linecap="butt"/>
<line x1="120.4" y1="1427.5" x2="120.4" y2="1440" stroke="#a6a6a6" stroke-width="3.3" stroke-linecap="butt"/>
<line x1="201" y1="1427.5" x2="201" y2="1440" stroke="#a6a6a6" stroke-width="3.3" stroke-linecap="butt"/>
<line x1="282.8" y1="1427.5" x2="282.8" y2="1440" stroke="#a6a6a6" stroke-width="3.3" stroke-linecap="butt"/>
<line x1="364" y1="1427.5" x2="364" y2="1440" stroke="#a6a6a6" stroke-width="3.3" stroke-linecap="butt"/>
<rect x="148.4" y="1021.6" width="25.2" height="405.9" fill="#ffa916" stroke="none" stroke-width="0"/>
<rect x="229.6" y="947.4" width="25.8" height="480.1" fill="#ffa916" stroke="none" stroke-width="0"/>
<rect x="310.8" y="988.9" width="25.2" height="438.6" fill="#ffa916" stroke="none" stroke-width="0"/>
<text id="t38" transform="translate(161.30 929.00) scale(1 1.1)" font-size="31" text-anchor="middle" font-weight="normal" font-style="italic" fill="#000">625</text>
<text id="t39" transform="translate(243.45 929.00) scale(1 1.1)" font-size="31" text-anchor="middle" font-weight="normal" font-style="italic" fill="#000">133</text>
<text id="t40" transform="translate(336.45 929.00) scale(1 1.1)" font-size="31" text-anchor="middle" font-weight="normal" font-style="italic" fill="#000">133</text>
<text id="t41" transform="translate(43.00 1185.85) rotate(-90)" font-size="36.2" text-anchor="middle" font-weight="normal" font-style="normal" fill="#000">% eQTL<tspan font-size="24" dy="-11">gbM</tspan><tspan dy="11"> (R) with </tspan><tspan font-style="italic">trans</tspan> QTLs</text>
<text id="t42" transform="translate(171.70 1460.10) rotate(-45)" font-size="37" text-anchor="end" font-weight="normal" font-style="normal" fill="#000">Worldwide</text>
<text id="t43" transform="translate(254.00 1460.20) rotate(-45)" font-size="37" text-anchor="end" font-weight="normal" font-style="normal" fill="#000">Swedish</text>
<text id="t44" transform="translate(340.60 1460.00) rotate(-45)" font-size="37" text-anchor="end" font-weight="normal" font-style="normal" fill="#000">Random</text>
<rect x="571.2" y="896" width="322.0999999999999" height="542.4000000000001" fill="none" stroke="#bababa" stroke-width="2.9"/>
<line x1="565" y1="1317.4" x2="571.2" y2="1317.4" stroke="#9c9c9c" stroke-width="1.6" stroke-linecap="butt"/>
<text id="t45" transform="translate(550.00 1328.80)" font-size="31" text-anchor="end" font-weight="normal" font-style="normal" fill="#000">25</text>
<line x1="565" y1="1192.7" x2="571.2" y2="1192.7" stroke="#9c9c9c" stroke-width="1.6" stroke-linecap="butt"/>
<text id="t46" transform="translate(550.00 1204.10)" font-size="31" text-anchor="end" font-weight="normal" font-style="normal" fill="#000">50</text>
<line x1="565" y1="1068.0" x2="571.2" y2="1068.0" stroke="#9c9c9c" stroke-width="1.6" stroke-linecap="butt"/>
<text id="t47" transform="translate(550.00 1079.40)" font-size="31" text-anchor="end" font-weight="normal" font-style="normal" fill="#000">75</text>
<line x1="565" y1="943.3" x2="571.2" y2="943.3" stroke="#9c9c9c" stroke-width="1.6" stroke-linecap="butt"/>
<text id="t48" transform="translate(548.90 957.25)" font-size="31" text-anchor="end" font-weight="normal" font-style="normal" fill="#000">100</text>
<line x1="630.3" y1="1438.4" x2="630.3" y2="1448" stroke="#9c9c9c" stroke-width="1.6" stroke-linecap="butt"/>
<line x1="732.3" y1="1438.4" x2="732.3" y2="1448" stroke="#9c9c9c" stroke-width="1.6" stroke-linecap="butt"/>
<line x1="833.3" y1="1438.4" x2="833.3" y2="1448" stroke="#9c9c9c" stroke-width="1.6" stroke-linecap="butt"/>
<text id="t49" transform="translate(623.05 882.60)" font-size="36" text-anchor="middle" font-weight="normal" font-style="italic" fill="#000">58</text>
<text id="t50" transform="translate(724.50 882.60)" font-size="36" text-anchor="middle" font-weight="normal" font-style="italic" fill="#000">69</text>
<text id="t51" transform="translate(824.55 882.60)" font-size="36" text-anchor="middle" font-weight="normal" font-style="italic" fill="#000">63</text>
<text id="t52" transform="translate(452.70 1182.15) rotate(-90)" font-size="36.2" text-anchor="middle" font-weight="normal" font-style="normal" fill="#000">% gbM variance explained</text>
<text id="t53" transform="translate(496.00 1177.75) rotate(-90)" font-size="36.2" text-anchor="middle" font-weight="normal" font-style="normal" fill="#000">by <tspan font-style="italic">trans</tspan> QTLs</text>
<line x1="630.3" y1="1330" x2="630.3" y2="1374.3" stroke="#111" stroke-width="2.6" stroke-linecap="butt"/>
<rect x="595" y="1374.3" width="71.7" height="38.4" fill="#fad42a" stroke="#111" stroke-width="2.6"/>
<line x1="595" y1="1405" x2="666.7" y2="1405" stroke="#111" stroke-width="4.5" stroke-linecap="butt"/>
<line x1="732.3" y1="1036.7" x2="732.3" y2="1205.7" stroke="#111" stroke-width="2.6" stroke-linecap="butt"/>
<line x1="732.3" y1="1320" x2="732.3" y2="1328.3" stroke="#111" stroke-width="2.6" stroke-linecap="butt"/>
<rect x="696.7" y="1205.7" width="71.6" height="114.3" fill="#fad42a" stroke="#111" stroke-width="2.6"/>
<line x1="696.7" y1="1302.7" x2="768.3" y2="1302.7" stroke="#111" stroke-width="4.5" stroke-linecap="butt"/>
<line x1="833.3" y1="1049.3" x2="833.3" y2="1211" stroke="#111" stroke-width="2.6" stroke-linecap="butt"/>
<line x1="833.3" y1="1320" x2="833.3" y2="1328.3" stroke="#111" stroke-width="2.6" stroke-linecap="butt"/>
<rect x="797.3" y="1211" width="71.7" height="109" fill="#fad42a" stroke="#111" stroke-width="2.6"/>
<line x1="797.3" y1="1305" x2="869" y2="1305" stroke="#111" stroke-width="4.5" stroke-linecap="butt"/>
<text id="t54" transform="translate(628.45 1314.55)" font-size="34" text-anchor="middle" font-weight="normal" font-style="normal" fill="#000">a</text>
<text id="t55" transform="translate(733.05 1009.50)" font-size="34" text-anchor="middle" font-weight="normal" font-style="normal" fill="#000">b</text>
<text id="t56" transform="translate(831.25 1016.50)" font-size="34" text-anchor="middle" font-weight="normal" font-style="normal" fill="#000">b</text>
<text id="t57" transform="translate(644.05 1474.90) rotate(-45)" font-size="36.8" text-anchor="end" font-weight="normal" font-style="normal" fill="#000">Worldwide</text>
<text id="t58" transform="translate(746.95 1475.25) rotate(-45)" font-size="36.8" text-anchor="end" font-weight="normal" font-style="normal" fill="#000">Swedish</text>
<text id="t59" transform="translate(840.95 1475.50) rotate(-45)" font-size="36.8" text-anchor="end" font-weight="normal" font-style="normal" fill="#000">Random</text>
<path d="M1082.6,892.7 H1229 M1229,895.4 H1495 V1437.7 H1082.6 V891.5" fill="none" stroke="#bababa" stroke-width="2.9"/>
<line x1="1077" y1="1413.5" x2="1082.6" y2="1413.5" stroke="#9c9c9c" stroke-width="1.6" stroke-linecap="butt"/>
<text id="t60" transform="translate(1065.55 1424.60)" font-size="29" text-anchor="end" font-weight="normal" font-style="normal" fill="#5c5c5c">0</text>
<line x1="1077" y1="1295.275" x2="1082.6" y2="1295.275" stroke="#9c9c9c" stroke-width="1.6" stroke-linecap="butt"/>
<text id="t61" transform="translate(1065.55 1306.38)" font-size="29" text-anchor="end" font-weight="normal" font-style="normal" fill="#5c5c5c">25</text>
<line x1="1077" y1="1177.05" x2="1082.6" y2="1177.05" stroke="#9c9c9c" stroke-width="1.6" stroke-linecap="butt"/>
<text id="t62" transform="translate(1065.55 1188.15)" font-size="29" text-anchor="end" font-weight="normal" font-style="normal" fill="#5c5c5c">50</text>
<line x1="1077" y1="1058.825" x2="1082.6" y2="1058.825" stroke="#9c9c9c" stroke-width="1.6" stroke-linecap="butt"/>
<text id="t63" transform="translate(1065.55 1069.92)" font-size="29" text-anchor="end" font-weight="normal" font-style="normal" fill="#5c5c5c">75</text>
<line x1="1077" y1="940.6" x2="1082.6" y2="940.6" stroke="#9c9c9c" stroke-width="1.6" stroke-linecap="butt"/>
<text id="t64" transform="translate(1065.55 951.75)" font-size="29" text-anchor="end" font-weight="normal" font-style="normal" fill="#5c5c5c">100</text>
<line x1="1160.6" y1="1437.7" x2="1160.6" y2="1445" stroke="#9c9c9c" stroke-width="1.6" stroke-linecap="butt"/>
<line x1="1287.5" y1="1437.7" x2="1287.5" y2="1445" stroke="#9c9c9c" stroke-width="1.6" stroke-linecap="butt"/>
<line x1="1417.6" y1="1437.7" x2="1417.6" y2="1445" stroke="#9c9c9c" stroke-width="1.6" stroke-linecap="butt"/>
<text id="t65" transform="translate(1157.90 881.90)" font-size="36" text-anchor="middle" font-weight="normal" font-style="italic" fill="#000">594</text>
<text id="t66" transform="translate(1287.05 881.90)" font-size="36" text-anchor="middle" font-weight="normal" font-style="italic" fill="#000">597</text>
<text id="t67" transform="translate(1416.55 881.90)" font-size="36" text-anchor="middle" font-weight="normal" font-style="italic" fill="#000">597</text>
<text id="t68" transform="translate(978.10 1174.60) rotate(-90)" font-size="36.2" text-anchor="middle" font-weight="normal" font-style="normal" fill="#000">% gbM variance explained</text>
<text id="t69" transform="translate(1021.70 1170.25) rotate(-90)" font-size="36.2" text-anchor="middle" font-weight="normal" font-style="normal" fill="#000">by <tspan font-style="italic">trans</tspan> QTLs</text>
<path d="M1161.00,1181.50 L1161.10,1300.00 L1161.10,1376.00 L1161.90,1378.50 L1163.10,1381.00 L1163.80,1385.00 L1163.20,1389.00 L1162.00,1392.00 L1161.20,1395.00 L1161.50,1398.00 L1162.60,1400.00 L1165.60,1401.50 L1170.60,1403.00 L1178.60,1405.00 L1187.60,1407.00 L1195.60,1409.00 L1202.10,1411.00 L1205.10,1412.30 L1206.10,1413.20 L1115.10,1413.20 L1116.10,1412.30 L1119.10,1411.00 L1125.60,1409.00 L1133.60,1407.00 L1142.60,1405.00 L1150.60,1403.00 L1155.60,1401.50 L1158.60,1400.00 L1159.70,1398.00 L1160.00,1395.00 L1159.20,1392.00 L1158.00,1389.00 L1157.40,1385.00 L1158.10,1381.00 L1159.30,1378.50 L1160.10,1376.00 L1160.10,1300.00 L1160.20,1181.50 Z" fill="#f6a326" stroke="#111" stroke-width="2.5" stroke-linejoin="round"/>
<line x1="1115" y1="1413.2" x2="1206" y2="1413.2" stroke="#111" stroke-width="4.2" stroke-linecap="butt"/>
<path d="M1287.95,936.50 L1287.95,937.00 L1287.95,937.50 L1287.95,938.00 L1287.95,938.50 L1287.95,939.00 L1287.95,939.50 L1287.95,940.00 L1287.95,940.50 L1287.95,941.00 L1287.95,941.50 L1287.95,942.00 L1287.95,942.50 L1287.95,943.00 L1287.95,943.50 L1287.95,944.00 L1287.95,944.50 L1287.95,945.00 L1287.95,945.50 L1287.95,946.00 L1287.95,946.50 L1287.95,947.00 L1287.95,947.50 L1287.95,948.00 L1287.95,948.50 L1287.95,949.00 L1287.95,949.50 L1287.95,950.00 L1287.95,950.50 L1287.95,951.00 L1287.95,951.50 L1287.95,952.00 L1287.95,952.50 L1287.95,953.00 L1287.95,953.50 L1287.95,954.00 L1287.95,954.50 L1287.96,955.00 L1287.96,955.50 L1287.96,956.00 L1287.96,956.50 L1287.96,957.00 L1287.96,957.50 L1287.96,958.00 L1287.96,958.50 L1287.96,959.00 L1287.96,959.50 L1287.96,960.00 L1287.96,960.50 L1287.96,961.00 L1287.96,961.50 L1287.96,962.00 L1287.96,962.50 L1287.96,963.00 L1287.96,963.50 L1287.96,964.00 L1287.96,964.50 L1287.96,965.00 L1287.96,965.50 L1287.96,966.00 L1287.96,966.50 L1287.96,967.00 L1287.96,967.50 L1287.96,968.00 L1287.96,968.50 L1287.96,969.00 L1287.96,969.50 L1287.96,970.00 L1287.96,970.50 L1287.96,971.00 L1287.96,971.50 L1287.96,972.00 L1287.96,972.50 L1287.96,973.00 L1287.96,973.50 L1287.96,974.00 L1287.96,974.50 L1287.96,975.00 L1287.96,975.50 L1287.96,976.00 L1287.96,976.50 L1287.96,977.00 L1287.96,977.50 L1287.96,978.00 L1287.96,978.50 L1287.96,979.00 L1287.96,979.50 L1287.96,980.00 L1287.96,980.50 L1287.96,981.00 L1287.96,981.50 L1287.96,982.00 L1287.96,982.50 L1287.96,983.00 L1287.96,983.50 L1287.96,984.00 L1287.96,984.50 L1287.96,985.00 L1287.96,985.50 L1287.96,986.00 L1287.96,986.50 L1287.96,987.00 L1287.96,987.50 L1287.96,988.00 L1287.96,988.50 L1287.96,989.00 L1287.96,989.50 L1287.96,990.00 L1287.96,990.50 L1287.96,991.00 L1287.96,991.50 L1287.96,992.00 L1287.96,992.50 L1287.96,993.00 L1287.96,993.50 L1287.96,994.00 L1287.96,994.50 L1287.96,995.00 L1287.96,995.50 L1287.96,996.00 L1287.96,996.50 L1287.96,997.00 L1287.96,997.50 L1287.96,998.00 L1287.96,998.50 L1287.96,999.00 L1287.96,999.50 L1287.96,1000.00 L1287.96,1000.50 L1287.96,1001.00 L1287.96,1001.50 L1287.96,1002.00 L1287.96,1002.50 L1287.96,1003.00 L1287.96,1003.50 L1287.96,1004.00 L1287.96,1004.50 L1287.96,1005.00 L1287.96,1005.50 L1287.96,1006.00 L1287.96,1006.50 L1287.96,1007.00 L1287.96,1007.50 L1287.96,1008.00 L1287.96,1008.50 L1287.96,1009.00 L1287.96,1009.50 L1287.96,1010.00 L1287.96,1010.50 L1287.97,1011.00 L1287.97,1011.50 L1287.97,1012.00 L1287.97,1012.50 L1287.97,1013.00 L1287.97,1013.50 L1287.97,1014.00 L1287.97,1014.50 L1287.97,1015.00 L1287.97,1015.50 L1287.97,1016.00 L1287.97,1016.50 L1287.97,1017.00 L1287.97,1017.50 L1287.97,1018.00 L1287.97,1018.50 L1287.97,1019.00 L1287.97,1019.50 L1287.97,1020.00 L1287.97,1020.50 L1287.97,1021.00 L1287.97,1021.50 L1287.97,1022.00 L1287.97,1022.50 L1287.97,1023.00 L1287.97,1023.50 L1287.97,1024.00 L1287.97,1024.50 L1287.97,1025.00 L1287.97,1025.50 L1287.97,1026.00 L1287.97,1026.50 L1287.97,1027.00 L1287.97,1027.50 L1287.97,1028.00 L1287.97,1028.50 L1287.97,1029.00 L1287.97,1029.50 L1287.97,1030.00 L1287.97,1030.50 L1287.97,1031.00 L1287.97,1031.50 L1287.97,1032.00 L1287.97,1032.50 L1287.97,1033.00 L1287.97,1033.50 L1287.97,1034.00 L1287.97,1034.50 L1287.97,1035.00 L1287.97,1035.50 L1287.97,1036.00 L1287.97,1036.50 L1287.97,1037.00 L1287.97,1037.50 L1287.97,1038.00 L1287.97,1038.50 L1287.97,1039.00 L1287.97,1039.50 L1287.97,1040.00 L1287.97,1040.50 L1287.97,1041.00 L1287.97,1041.50 L1287.97,1042.00 L1287.97,1042.50 L1287.97,1043.00 L1287.97,1043.50 L1287.97,1044.00 L1287.97,1044.50 L1287.97,1045.00 L1287.97,1045.50 L1287.97,1046.00 L1287.97,1046.50 L1287.97,1047.00 L1287.97,1047.50 L1287.97,1048.00 L1287.97,1048.50 L1287.97,1049.00 L1287.97,1049.50 L1287.97,1050.00 L1287.97,1050.50 L1287.97,1051.00 L1287.97,1051.50 L1287.97,1052.00 L1287.97,1052.50 L1287.97,1053.00 L1287.97,1053.50 L1287.97,1054.00 L1287.97,1054.50 L1287.97,1055.00 L1287.97,1055.50 L1287.97,1056.00 L1287.97,1056.50 L1287.97,1057.00 L1287.97,1057.50 L1287.97,1058.00 L1287.97,1058.50 L1287.97,1059.00 L1287.97,1059.50 L1287.97,1060.00 L1287.97,1060.50 L1287.97,1061.00 L1287.97,1061.50 L1287.97,1062.00 L1287.97,1062.50 L1287.97,1063.00 L1287.97,1063.50 L1287.97,1064.00 L1287.97,1064.50 L1287.97,1065.00 L1287.97,1065.50 L1287.97,1066.00 L1287.97,1066.50 L1287.97,1067.00 L1287.97,1067.50 L1287.97,1068.00 L1287.97,1068.50 L1287.97,1069.00 L1287.97,1069.50 L1287.97,1070.00 L1287.97,1070.50 L1287.97,1071.00 L1287.97,1071.50 L1287.97,1072.00 L1287.97,1072.50 L1287.97,1073.00 L1287.97,1073.50 L1287.97,1074.00 L1287.97,1074.50 L1287.97,1075.00 L1287.97,1075.50 L1287.97,1076.00 L1287.97,1076.50 L1287.97,1077.00 L1287.97,1077.50 L1287.97,1078.00 L1287.97,1078.50 L1287.97,1079.00 L1287.97,1079.50 L1287.97,1080.00 L1287.97,1080.50 L1287.97,1081.00 L1287.97,1081.50 L1287.97,1082.00 L1287.97,1082.50 L1287.97,1083.00 L1287.97,1083.50 L1287.97,1084.00 L1287.97,1084.50 L1287.97,1085.00 L1287.97,1085.50 L1287.97,1086.00 L1287.97,1086.50 L1287.97,1087.00 L1287.97,1087.50 L1287.97,1088.00 L1287.97,1088.50 L1287.97,1089.00 L1287.97,1089.50 L1287.97,1090.00 L1287.97,1090.50 L1287.97,1091.00 L1287.97,1091.50 L1287.97,1092.00 L1287.97,1092.50 L1287.97,1093.00 L1287.97,1093.50 L1287.97,1094.00 L1287.97,1094.50 L1287.98,1095.00 L1287.98,1095.50 L1287.98,1096.00 L1287.98,1096.50 L1287.98,1097.00 L1287.98,1097.50 L1287.98,1098.00 L1287.98,1098.50 L1287.98,1099.00 L1287.98,1099.50 L1287.98,1100.00 L1287.98,1100.50 L1287.98,1101.00 L1287.98,1101.50 L1287.98,1102.00 L1287.98,1102.50 L1287.98,1103.00 L1287.98,1103.50 L1287.98,1104.00 L1287.98,1104.50 L1287.98,1105.00 L1287.98,1105.50 L1287.98,1106.00 L1287.98,1106.50 L1287.98,1107.00 L1287.98,1107.50 L1287.98,1108.00 L1287.98,1108.50 L1287.98,1109.00 L1287.98,1109.50 L1287.98,1110.00 L1287.98,1110.50 L1287.98,1111.00 L1287.98,1111.50 L1287.98,1112.00 L1287.98,1112.50 L1287.98,1113.00 L1287.98,1113.50 L1287.98,1114.00 L1287.98,1114.50 L1287.98,1115.00 L1287.98,1115.50 L1287.98,1116.00 L1287.98,1116.50 L1287.98,1117.00 L1287.98,1117.50 L1287.98,1118.00 L1287.98,1118.50 L1287.98,1119.00 L1287.98,1119.50 L1287.98,1120.00 L1287.98,1120.50 L1287.98,1121.00 L1287.98,1121.50 L1287.98,1122.00 L1287.98,1122.50 L1287.98,1123.00 L1287.98,1123.50 L1287.98,1124.00 L1287.98,1124.50 L1287.98,1125.00 L1287.98,1125.50 L1287.98,1126.00 L1287.98,1126.50 L1287.98,1127.00 L1287.98,1127.50 L1287.98,1128.00 L1287.98,1128.50 L1287.98,1129.00 L1287.98,1129.50 L1287.98,1130.00 L1287.98,1130.50 L1287.98,1131.00 L1287.98,1131.50 L1287.98,1132.00 L1287.98,1132.50 L1287.98,1133.00 L1287.98,1133.50 L1287.98,1134.00 L1287.98,1134.50 L1287.98,1135.00 L1287.98,1135.50 L1287.98,1136.00 L1287.98,1136.50 L1287.98,1137.00 L1287.98,1137.50 L1287.98,1138.00 L1287.98,1138.50 L1287.98,1139.00 L1287.98,1139.50 L1287.98,1140.00 L1287.98,1140.50 L1287.98,1141.00 L1287.98,1141.50 L1287.98,1142.00 L1287.98,1142.50 L1287.98,1143.00 L1287.98,1143.50 L1287.98,1144.00 L1287.99,1144.50 L1287.99,1145.00 L1287.99,1145.50 L1287.99,1146.00 L1287.99,1146.50 L1287.99,1147.00 L1287.99,1147.50 L1287.99,1148.00 L1287.99,1148.50 L1287.99,1149.00 L1287.99,1149.50 L1287.99,1150.00 L1287.99,1150.50 L1287.99,1151.00 L1287.99,1151.50 L1287.99,1152.00 L1287.99,1152.50 L1287.99,1153.00 L1287.99,1153.50 L1287.99,1154.00 L1287.99,1154.50 L1287.99,1155.00 L1287.99,1155.50 L1287.99,1156.00 L1287.99,1156.50 L1287.99,1157.00 L1287.99,1157.50 L1287.99,1158.00 L1287.99,1158.50 L1287.99,1159.00 L1287.99,1159.50 L1287.99,1160.00 L1287.99,1160.50 L1287.99,1161.00 L1287.99,1161.50 L1287.99,1162.00 L1287.99,1162.50 L1287.99,1163.00 L1287.99,1163.50 L1287.99,1164.00 L1287.99,1164.50 L1287.99,1165.00 L1287.99,1165.50 L1287.99,1166.00 L1287.99,1166.50 L1287.99,1167.00 L1287.99,1167.50 L1287.99,1168.00 L1287.99,1168.50 L1287.99,1169.00 L1287.99,1169.50 L1287.99,1170.00 L1287.99,1170.50 L1287.99,1171.00 L1287.99,1171.50 L1287.99,1172.00 L1287.99,1172.50 L1287.99,1173.00 L1287.99,1173.50 L1287.99,1174.00 L1287.99,1174.50 L1287.99,1175.00 L1288.00,1175.50 L1288.00,1176.00 L1288.00,1176.50 L1288.00,1177.00 L1288.00,1177.50 L1288.00,1178.00 L1288.00,1178.50 L1288.00,1179.00 L1288.00,1179.50 L1288.00,1180.00 L1288.00,1180.50 L1288.00,1181.00 L1288.00,1181.50 L1288.00,1182.00 L1288.00,1182.50 L1288.00,1183.00 L1288.00,1183.50 L1288.00,1184.00 L1288.00,1184.50 L1288.00,1185.00 L1288.00,1185.50 L1288.00,1186.00 L1288.00,1186.50 L1288.00,1187.00 L1288.00,1187.50 L1288.00,1188.00 L1288.00,1188.50 L1288.00,1189.00 L1288.00,1189.50 L1288.00,1190.00 L1288.00,1190.50 L1288.00,1191.00 L1288.00,1191.50 L1288.00,1192.00 L1288.00,1192.50 L1288.00,1193.00 L1288.00,1193.50 L1288.00,1194.00 L1288.00,1194.50 L1288.00,1195.00 L1288.00,1195.50 L1288.00,1196.00 L1288.00,1196.50 L1288.00,1197.00 L1288.00,1197.50 L1288.01,1198.00 L1288.01,1198.50 L1288.01,1199.00 L1288.01,1199.50 L1288.01,1200.00 L1288.01,1200.50 L1288.01,1201.00 L1288.01,1201.50 L1288.01,1202.00 L1288.01,1202.50 L1288.01,1203.00 L1288.01,1203.50 L1288.01,1204.00 L1288.01,1204.50 L1288.01,1205.00 L1288.01,1205.50 L1288.01,1206.00 L1288.01,1206.50 L1288.01,1207.00 L1288.01,1207.50 L1288.01,1208.00 L1288.01,1208.50 L1288.01,1209.00 L1288.01,1209.50 L1288.01,1210.00 L1288.01,1210.50 L1288.01,1211.00 L1288.01,1211.50 L1288.01,1212.00 L1288.01,1212.50 L1288.01,1213.00 L1288.01,1213.50 L1288.01,1214.00 L1288.01,1214.50 L1288.01,1215.00 L1288.01,1215.50 L1288.01,1216.00 L1288.02,1216.50 L1288.02,1217.00 L1288.02,1217.50 L1288.02,1218.00 L1288.02,1218.50 L1288.02,1219.00 L1288.02,1219.50 L1288.02,1220.00 L1288.02,1220.50 L1288.02,1221.00 L1288.02,1221.50 L1288.02,1222.00 L1288.02,1222.50 L1288.02,1223.00 L1288.02,1223.50 L1288.02,1224.00 L1288.02,1224.50 L1288.02,1225.00 L1288.02,1225.50 L1288.02,1226.00 L1288.02,1226.50 L1288.02,1227.00 L1288.02,1227.50 L1288.02,1228.00 L1288.02,1228.50 L1288.02,1229.00 L1288.02,1229.50 L1288.02,1230.00 L1288.02,1230.50 L1288.02,1231.00 L1288.02,1231.50 L1288.02,1232.00 L1288.03,1232.50 L1288.03,1233.00 L1288.03,1233.50 L1288.03,1234.00 L1288.03,1234.50 L1288.03,1235.00 L1288.03,1235.50 L1288.03,1236.00 L1288.03,1236.50 L1288.03,1237.00 L1288.03,1237.50 L1288.03,1238.00 L1288.03,1238.50 L1288.03,1239.00 L1288.03,1239.50 L1288.03,1240.00 L1288.03,1240.50 L1288.03,1241.00 L1288.03,1241.50 L1288.03,1242.00 L1288.03,1242.50 L1288.03,1243.00 L1288.03,1243.50 L1288.03,1244.00 L1288.03,1244.50 L1288.03,1245.00 L1288.03,1245.50 L1288.04,1246.00 L1288.04,1246.50 L1288.04,1247.00 L1288.04,1247.50 L1288.04,1248.00 L1288.04,1248.50 L1288.04,1249.00 L1288.04,1249.50 L1288.04,1250.00 L1288.04,1250.50 L1288.04,1251.00 L1288.04,1251.50 L1288.04,1252.00 L1288.04,1252.50 L1288.04,1253.00 L1288.04,1253.50 L1288.04,1254.00 L1288.04,1254.50 L1288.04,1255.00 L1288.04,1255.50 L1288.04,1256.00 L1288.04,1256.50 L1288.04,1257.00 L1288.04,1257.50 L1288.04,1258.00 L1288.05,1258.50 L1288.05,1259.00 L1288.05,1259.50 L1288.05,1260.00 L1288.05,1260.50 L1288.05,1261.00 L1288.05,1261.50 L1288.05,1262.00 L1288.05,1262.50 L1288.05,1263.00 L1288.05,1263.50 L1288.05,1264.00 L1288.06,1264.50 L1288.09,1265.00 L1288.13,1265.50 L1288.18,1266.00 L1288.25,1266.50 L1288.32,1267.00 L1288.40,1267.50 L1288.49,1268.00 L1288.57,1268.50 L1288.65,1269.00 L1288.73,1269.50 L1288.80,1270.00 L1288.87,1270.50 L1288.94,1271.00 L1289.02,1271.50 L1289.10,1272.00 L1289.18,1272.50 L1289.27,1273.00 L1289.35,1273.50 L1289.43,1274.00 L1289.51,1274.50 L1289.59,1275.00 L1289.67,1275.50 L1289.75,1276.00 L1289.82,1276.50 L1289.88,1277.00 L1289.95,1277.50 L1290.00,1278.00 L1290.05,1278.50 L1290.10,1279.00 L1290.16,1279.50 L1290.21,1280.00 L1290.26,1280.50 L1290.31,1281.00 L1290.35,1281.50 L1290.40,1282.00 L1290.44,1282.50 L1290.49,1283.00 L1290.53,1283.50 L1290.56,1284.00 L1290.59,1284.50 L1290.62,1285.00 L1290.65,1285.50 L1290.67,1286.00 L1290.69,1286.50 L1290.70,1287.00 L1290.71,1287.50 L1290.72,1288.00 L1290.73,1288.50 L1290.74,1289.00 L1290.74,1289.50 L1290.75,1290.00 L1290.76,1290.50 L1290.77,1291.00 L1290.77,1291.50 L1290.78,1292.00 L1290.78,1292.50 L1290.79,1293.00 L1290.79,1293.50 L1290.79,1294.00 L1290.80,1294.50 L1290.80,1295.00 L1290.80,1295.50 L1290.80,1296.00 L1290.80,1296.50 L1290.79,1297.00 L1290.78,1297.50 L1290.77,1298.00 L1290.75,1298.50 L1290.73,1299.00 L1290.70,1299.50 L1290.67,1300.00 L1290.64,1300.50 L1290.61,1301.00 L1290.57,1301.50 L1290.54,1302.00 L1290.50,1302.50 L1290.46,1303.00 L1290.42,1303.50 L1290.37,1304.00 L1290.33,1304.50 L1290.29,1305.00 L1290.24,1305.50 L1290.20,1306.00 L1290.15,1306.50 L1290.10,1307.00 L1290.03,1307.50 L1289.96,1308.00 L1289.89,1308.50 L1289.81,1309.00 L1289.72,1309.50 L1289.64,1310.00 L1289.55,1310.50 L1289.46,1311.00 L1289.38,1311.50 L1289.30,1312.00 L1289.21,1312.50 L1289.14,1313.00 L1289.07,1313.50 L1289.00,1314.00 L1288.93,1314.50 L1288.87,1315.00 L1288.79,1315.50 L1288.72,1316.00 L1288.65,1316.50 L1288.58,1317.00 L1288.52,1317.50 L1288.46,1318.00 L1288.42,1318.50 L1288.38,1319.00 L1288.36,1319.50 L1288.35,1320.00 L1288.35,1320.50 L1288.35,1321.00 L1288.35,1321.50 L1288.35,1322.00 L1288.35,1322.50 L1288.35,1323.00 L1288.35,1323.50 L1288.35,1324.00 L1288.35,1324.50 L1288.35,1325.00 L1288.35,1325.50 L1288.35,1326.00 L1288.35,1326.50 L1288.35,1327.00 L1288.35,1327.50 L1288.35,1328.00 L1288.35,1328.50 L1288.35,1329.00 L1288.35,1329.50 L1288.35,1330.00 L1288.35,1330.50 L1288.35,1331.00 L1288.35,1331.50 L1288.35,1332.00 L1288.35,1332.50 L1288.35,1333.00 L1288.35,1333.50 L1288.35,1334.00 L1288.35,1334.50 L1288.35,1335.00 L1288.36,1335.50 L1288.36,1336.00 L1288.36,1336.50 L1288.36,1337.00 L1288.36,1337.50 L1288.36,1338.00 L1288.36,1338.50 L1288.36,1339.00 L1288.36,1339.50 L1288.36,1340.00 L1288.36,1340.50 L1288.36,1341.00 L1288.36,1341.50 L1288.36,1342.00 L1288.36,1342.50 L1288.36,1343.00 L1288.36,1343.50 L1288.37,1344.00 L1288.37,1344.50 L1288.37,1345.00 L1288.37,1345.50 L1288.37,1346.00 L1288.37,1346.50 L1288.37,1347.00 L1288.37,1347.50 L1288.37,1348.00 L1288.37,1348.50 L1288.37,1349.00 L1288.38,1349.50 L1288.38,1350.00 L1288.38,1350.50 L1288.38,1351.00 L1288.38,1351.50 L1288.38,1352.00 L1288.38,1352.50 L1288.38,1353.00 L1288.39,1353.50 L1288.39,1354.00 L1288.39,1354.50 L1288.39,1355.00 L1288.39,1355.50 L1288.39,1356.00 L1288.40,1356.50 L1288.40,1357.00 L1288.40,1357.50 L1288.40,1358.00 L1288.41,1358.50 L1288.43,1359.00 L1288.45,1359.50 L1288.49,1360.00 L1288.53,1360.50 L1288.58,1361.00 L1288.63,1361.50 L1288.69,1362.00 L1288.74,1362.50 L1288.80,1363.00 L1288.86,1363.50 L1288.92,1364.00 L1289.00,1364.50 L1289.08,1365.00 L1289.16,1365.50 L1289.26,1366.00 L1289.36,1366.50 L1289.46,1367.00 L1289.58,1367.50 L1289.70,1368.00 L1289.84,1368.50 L1290.00,1369.00 L1290.18,1369.50 L1290.37,1370.00 L1290.59,1370.50 L1290.81,1371.00 L1291.05,1371.50 L1291.30,1372.00 L1291.57,1372.50 L1291.86,1373.00 L1292.18,1373.50 L1292.52,1374.00 L1292.88,1374.50 L1293.24,1375.00 L1293.62,1375.50 L1294.00,1376.00 L1294.39,1376.50 L1294.79,1377.00 L1295.21,1377.50 L1295.64,1378.00 L1296.08,1378.50 L1296.54,1379.00 L1297.01,1379.50 L1297.50,1380.00 L1298.01,1380.50 L1298.53,1381.00 L1299.08,1381.50 L1299.65,1382.00 L1300.23,1382.50 L1300.82,1383.00 L1301.41,1383.50 L1302.00,1384.00 L1302.60,1384.50 L1303.21,1385.00 L1303.84,1385.50 L1304.47,1386.00 L1305.10,1386.50 L1305.74,1387.00 L1306.37,1387.50 L1307.00,1388.00 L1307.62,1388.50 L1308.25,1389.00 L1308.88,1389.50 L1309.50,1390.00 L1310.12,1390.50 L1310.75,1391.00 L1311.38,1391.50 L1312.00,1392.00 L1312.62,1392.50 L1313.25,1393.00 L1313.88,1393.50 L1314.50,1394.00 L1315.12,1394.50 L1315.75,1395.00 L1316.38,1395.50 L1317.00,1396.00 L1317.63,1396.50 L1318.26,1397.00 L1318.90,1397.50 L1319.53,1398.00 L1320.16,1398.50 L1320.79,1399.00 L1321.40,1399.50 L1322.00,1400.00 L1322.59,1400.50 L1323.17,1401.00 L1323.75,1401.50 L1324.31,1402.00 L1324.87,1402.50 L1325.42,1403.00 L1325.97,1403.50 L1326.50,1404.00 L1327.03,1404.50 L1327.55,1405.00 L1328.07,1405.50 L1328.58,1406.00 L1329.08,1406.50 L1329.56,1407.00 L1330.04,1407.50 L1330.50,1408.00 L1330.97,1408.50 L1331.46,1409.00 L1331.93,1409.50 L1332.36,1410.00 L1332.73,1410.50 L1333.00,1411.00 L1333.21,1411.56 L1333.38,1412.12 L1333.52,1412.68 L1333.65,1413.24 L1333.80,1413.80 L1241.20,1413.80 L1241.35,1413.24 L1241.48,1412.68 L1241.62,1412.12 L1241.79,1411.56 L1242.00,1411.00 L1242.27,1410.50 L1242.64,1410.00 L1243.07,1409.50 L1243.54,1409.00 L1244.03,1408.50 L1244.50,1408.00 L1244.96,1407.50 L1245.44,1407.00 L1245.92,1406.50 L1246.42,1406.00 L1246.93,1405.50 L1247.45,1405.00 L1247.97,1404.50 L1248.50,1404.00 L1249.03,1403.50 L1249.58,1403.00 L1250.13,1402.50 L1250.69,1402.00 L1251.25,1401.50 L1251.83,1401.00 L1252.41,1400.50 L1253.00,1400.00 L1253.60,1399.50 L1254.21,1399.00 L1254.84,1398.50 L1255.47,1398.00 L1256.10,1397.50 L1256.74,1397.00 L1257.37,1396.50 L1258.00,1396.00 L1258.62,1395.50 L1259.25,1395.00 L1259.88,1394.50 L1260.50,1394.00 L1261.12,1393.50 L1261.75,1393.00 L1262.38,1392.50 L1263.00,1392.00 L1263.62,1391.50 L1264.25,1391.00 L1264.88,1390.50 L1265.50,1390.00 L1266.12,1389.50 L1266.75,1389.00 L1267.38,1388.50 L1268.00,1388.00 L1268.63,1387.50 L1269.26,1387.00 L1269.90,1386.50 L1270.53,1386.00 L1271.16,1385.50 L1271.79,1385.00 L1272.40,1384.50 L1273.00,1384.00 L1273.59,1383.50 L1274.18,1383.00 L1274.77,1382.50 L1275.35,1382.00 L1275.92,1381.50 L1276.47,1381.00 L1276.99,1380.50 L1277.50,1380.00 L1277.99,1379.50 L1278.46,1379.00 L1278.92,1378.50 L1279.36,1378.00 L1279.79,1377.50 L1280.21,1377.00 L1280.61,1376.50 L1281.00,1376.00 L1281.38,1375.50 L1281.76,1375.00 L1282.12,1374.50 L1282.48,1374.00 L1282.82,1373.50 L1283.14,1373.00 L1283.43,1372.50 L1283.70,1372.00 L1283.95,1371.50 L1284.19,1371.00 L1284.41,1370.50 L1284.63,1370.00 L1284.82,1369.50 L1285.00,1369.00 L1285.16,1368.50 L1285.30,1368.00 L1285.42,1367.50 L1285.54,1367.00 L1285.64,1366.50 L1285.74,1366.00 L1285.84,1365.50 L1285.92,1365.00 L1286.00,1364.50 L1286.08,1364.00 L1286.14,1363.50 L1286.20,1363.00 L1286.26,1362.50 L1286.31,1362.00 L1286.37,1361.50 L1286.42,1361.00 L1286.47,1360.50 L1286.51,1360.00 L1286.55,1359.50 L1286.57,1359.00 L1286.59,1358.50 L1286.60,1358.00 L1286.60,1357.50 L1286.60,1357.00 L1286.60,1356.50 L1286.61,1356.00 L1286.61,1355.50 L1286.61,1355.00 L1286.61,1354.50 L1286.61,1354.00 L1286.61,1353.50 L1286.62,1353.00 L1286.62,1352.50 L1286.62,1352.00 L1286.62,1351.50 L1286.62,1351.00 L1286.62,1350.50 L1286.62,1350.00 L1286.62,1349.50 L1286.63,1349.00 L1286.63,1348.50 L1286.63,1348.00 L1286.63,1347.50 L1286.63,1347.00 L1286.63,1346.50 L1286.63,1346.00 L1286.63,1345.50 L1286.63,1345.00 L1286.63,1344.50 L1286.63,1344.00 L1286.64,1343.50 L1286.64,1343.00 L1286.64,1342.50 L1286.64,1342.00 L1286.64,1341.50 L1286.64,1341.00 L1286.64,1340.50 L1286.64,1340.00 L1286.64,1339.50 L1286.64,1339.00 L1286.64,1338.50 L1286.64,1338.00 L1286.64,1337.50 L1286.64,1337.00 L1286.64,1336.50 L1286.64,1336.00 L1286.64,1335.50 L1286.65,1335.00 L1286.65,1334.50 L1286.65,1334.00 L1286.65,1333.50 L1286.65,1333.00 L1286.65,1332.50 L1286.65,1332.00 L1286.65,1331.50 L1286.65,1331.00 L1286.65,1330.50 L1286.65,1330.00 L1286.65,1329.50 L1286.65,1329.00 L1286.65,1328.50 L1286.65,1328.00 L1286.65,1327.50 L1286.65,1327.00 L1286.65,1326.50 L1286.65,1326.00 L1286.65,1325.50 L1286.65,1325.00 L1286.65,1324.50 L1286.65,1324.00 L1286.65,1323.50 L1286.65,1323.00 L1286.65,1322.50 L1286.65,1322.00 L1286.65,1321.50 L1286.65,1321.00 L1286.65,1320.50 L1286.65,1320.00 L1286.64,1319.50 L1286.62,1319.00 L1286.58,1318.50 L1286.54,1318.00 L1286.48,1317.50 L1286.42,1317.00 L1286.35,1316.50 L1286.28,1316.00 L1286.21,1315.50 L1286.13,1315.00 L1286.07,1314.50 L1286.00,1314.00 L1285.93,1313.50 L1285.86,1313.00 L1285.79,1312.50 L1285.70,1312.00 L1285.62,1311.50 L1285.54,1311.00 L1285.45,1310.50 L1285.36,1310.00 L1285.28,1309.50 L1285.19,1309.00 L1285.11,1308.50 L1285.04,1308.00 L1284.97,1307.50 L1284.90,1307.00 L1284.85,1306.50 L1284.80,1306.00 L1284.76,1305.50 L1284.71,1305.00 L1284.67,1304.50 L1284.63,1304.00 L1284.58,1303.50 L1284.54,1303.00 L1284.50,1302.50 L1284.46,1302.00 L1284.43,1301.50 L1284.39,1301.00 L1284.36,1300.50 L1284.33,1300.00 L1284.30,1299.50 L1284.27,1299.00 L1284.25,1298.50 L1284.23,1298.00 L1284.22,1297.50 L1284.21,1297.00 L1284.20,1296.50 L1284.20,1296.00 L1284.20,1295.50 L1284.20,1295.00 L1284.20,1294.50 L1284.21,1294.00 L1284.21,1293.50 L1284.21,1293.00 L1284.22,1292.50 L1284.22,1292.00 L1284.23,1291.50 L1284.23,1291.00 L1284.24,1290.50 L1284.25,1290.00 L1284.26,1289.50 L1284.26,1289.00 L1284.27,1288.50 L1284.28,1288.00 L1284.29,1287.50 L1284.30,1287.00 L1284.31,1286.50 L1284.33,1286.00 L1284.35,1285.50 L1284.38,1285.00 L1284.41,1284.50 L1284.44,1284.00 L1284.47,1283.50 L1284.51,1283.00 L1284.56,1282.50 L1284.60,1282.00 L1284.65,1281.50 L1284.69,1281.00 L1284.74,1280.50 L1284.79,1280.00 L1284.84,1279.50 L1284.90,1279.00 L1284.95,1278.50 L1285.00,1278.00 L1285.05,1277.50 L1285.12,1277.00 L1285.18,1276.50 L1285.25,1276.00 L1285.33,1275.50 L1285.41,1275.00 L1285.49,1274.50 L1285.57,1274.00 L1285.65,1273.50 L1285.73,1273.00 L1285.82,1272.50 L1285.90,1272.00 L1285.98,1271.50 L1286.06,1271.00 L1286.13,1270.50 L1286.20,1270.00 L1286.27,1269.50 L1286.35,1269.00 L1286.43,1268.50 L1286.51,1268.00 L1286.60,1267.50 L1286.68,1267.00 L1286.75,1266.50 L1286.82,1266.00 L1286.87,1265.50 L1286.91,1265.00 L1286.94,1264.50 L1286.95,1264.00 L1286.95,1263.50 L1286.95,1263.00 L1286.95,1262.50 L1286.95,1262.00 L1286.95,1261.50 L1286.95,1261.00 L1286.95,1260.50 L1286.95,1260.00 L1286.95,1259.50 L1286.95,1259.00 L1286.95,1258.50 L1286.96,1258.00 L1286.96,1257.50 L1286.96,1257.00 L1286.96,1256.50 L1286.96,1256.00 L1286.96,1255.50 L1286.96,1255.00 L1286.96,1254.50 L1286.96,1254.00 L1286.96,1253.50 L1286.96,1253.00 L1286.96,1252.50 L1286.96,1252.00 L1286.96,1251.50 L1286.96,1251.00 L1286.96,1250.50 L1286.96,1250.00 L1286.96,1249.50 L1286.96,1249.00 L1286.96,1248.50 L1286.96,1248.00 L1286.96,1247.50 L1286.96,1247.00 L1286.96,1246.50 L1286.96,1246.00 L1286.97,1245.50 L1286.97,1245.00 L1286.97,1244.50 L1286.97,1244.00 L1286.97,1243.50 L1286.97,1243.00 L1286.97,1242.50 L1286.97,1242.00 L1286.97,1241.50 L1286.97,1241.00 L1286.97,1240.50 L1286.97,1240.00 L1286.97,1239.50 L1286.97,1239.00 L1286.97,1238.50 L1286.97,1238.00 L1286.97,1237.50 L1286.97,1237.00 L1286.97,1236.50 L1286.97,1236.00 L1286.97,1235.50 L1286.97,1235.00 L1286.97,1234.50 L1286.97,1234.00 L1286.97,1233.50 L1286.97,1233.00 L1286.97,1232.50 L1286.98,1232.00 L1286.98,1231.50 L1286.98,1231.00 L1286.98,1230.50 L1286.98,1230.00 L1286.98,1229.50 L1286.98,1229.00 L1286.98,1228.50 L1286.98,1228.00 L1286.98,1227.50 L1286.98,1227.00 L1286.98,1226.50 L1286.98,1226.00 L1286.98,1225.50 L1286.98,1225.00 L1286.98,1224.50 L1286.98,1224.00 L1286.98,1223.50 L1286.98,1223.00 L1286.98,1222.50 L1286.98,1222.00 L1286.98,1221.50 L1286.98,1221.00 L1286.98,1220.50 L1286.98,1220.00 L1286.98,1219.50 L1286.98,1219.00 L1286.98,1218.50 L1286.98,1218.00 L1286.98,1217.50 L1286.98,1217.00 L1286.98,1216.50 L1286.99,1216.00 L1286.99,1215.50 L1286.99,1215.00 L1286.99,1214.50 L1286.99,1214.00 L1286.99,1213.50 L1286.99,1213.00 L1286.99,1212.50 L1286.99,1212.00 L1286.99,1211.50 L1286.99,1211.00 L1286.99,1210.50 L1286.99,1210.00 L1286.99,1209.50 L1286.99,1209.00 L1286.99,1208.50 L1286.99,1208.00 L1286.99,1207.50 L1286.99,1207.00 L1286.99,1206.50 L1286.99,1206.00 L1286.99,1205.50 L1286.99,1205.00 L1286.99,1204.50 L1286.99,1204.00 L1286.99,1203.50 L1286.99,1203.00 L1286.99,1202.50 L1286.99,1202.00 L1286.99,1201.50 L1286.99,1201.00 L1286.99,1200.50 L1286.99,1200.00 L1286.99,1199.50 L1286.99,1199.00 L1286.99,1198.50 L1286.99,1198.00 L1287.00,1197.50 L1287.00,1197.00 L1287.00,1196.50 L1287.00,1196.00 L1287.00,1195.50 L1287.00,1195.00 L1287.00,1194.50 L1287.00,1194.00 L1287.00,1193.50 L1287.00,1193.00 L1287.00,1192.50 L1287.00,1192.00 L1287.00,1191.50 L1287.00,1191.00 L1287.00,1190.50 L1287.00,1190.00 L1287.00,1189.50 L1287.00,1189.00 L1287.00,1188.50 L1287.00,1188.00 L1287.00,1187.50 L1287.00,1187.00 L1287.00,1186.50 L1287.00,1186.00 L1287.00,1185.50 L1287.00,1185.00 L1287.00,1184.50 L1287.00,1184.00 L1287.00,1183.50 L1287.00,1183.00 L1287.00,1182.50 L1287.00,1182.00 L1287.00,1181.50 L1287.00,1181.00 L1287.00,1180.50 L1287.00,1180.00 L1287.00,1179.50 L1287.00,1179.00 L1287.00,1178.50 L1287.00,1178.00 L1287.00,1177.50 L1287.00,1177.00 L1287.00,1176.50 L1287.00,1176.00 L1287.00,1175.50 L1287.01,1175.00 L1287.01,1174.50 L1287.01,1174.00 L1287.01,1173.50 L1287.01,1173.00 L1287.01,1172.50 L1287.01,1172.00 L1287.01,1171.50 L1287.01,1171.00 L1287.01,1170.50 L1287.01,1170.00 L1287.01,1169.50 L1287.01,1169.00 L1287.01,1168.50 L1287.01,1168.00 L1287.01,1167.50 L1287.01,1167.00 L1287.01,1166.50 L1287.01,1166.00 L1287.01,1165.50 L1287.01,1165.00 L1287.01,1164.50 L1287.01,1164.00 L1287.01,1163.50 L1287.01,1163.00 L1287.01,1162.50 L1287.01,1162.00 L1287.01,1161.50 L1287.01,1161.00 L1287.01,1160.50 L1287.01,1160.00 L1287.01,1159.50 L1287.01,1159.00 L1287.01,1158.50 L1287.01,1158.00 L1287.01,1157.50 L1287.01,1157.00 L1287.01,1156.50 L1287.01,1156.00 L1287.01,1155.50 L1287.01,1155.00 L1287.01,1154.50 L1287.01,1154.00 L1287.01,1153.50 L1287.01,1153.00 L1287.01,1152.50 L1287.01,1152.00 L1287.01,1151.50 L1287.01,1151.00 L1287.01,1150.50 L1287.01,1150.00 L1287.01,1149.50 L1287.01,1149.00 L1287.01,1148.50 L1287.01,1148.00 L1287.01,1147.50 L1287.01,1147.00 L1287.01,1146.50 L1287.01,1146.00 L1287.01,1145.50 L1287.01,1145.00 L1287.01,1144.50 L1287.02,1144.00 L1287.02,1143.50 L1287.02,1143.00 L1287.02,1142.50 L1287.02,1142.00 L1287.02,1141.50 L1287.02,1141.00 L1287.02,1140.50 L1287.02,1140.00 L1287.02,1139.50 L1287.02,1139.00 L1287.02,1138.50 L1287.02,1138.00 L1287.02,1137.50 L1287.02,1137.00 L1287.02,1136.50 L1287.02,1136.00 L1287.02,1135.50 L1287.02,1135.00 L1287.02,1134.50 L1287.02,1134.00 L1287.02,1133.50 L1287.02,1133.00 L1287.02,1132.50 L1287.02,1132.00 L1287.02,1131.50 L1287.02,1131.00 L1287.02,1130.50 L1287.02,1130.00 L1287.02,1129.50 L1287.02,1129.00 L1287.02,1128.50 L1287.02,1128.00 L1287.02,1127.50 L1287.02,1127.00 L1287.02,1126.50 L1287.02,1126.00 L1287.02,1125.50 L1287.02,1125.00 L1287.02,1124.50 L1287.02,1124.00 L1287.02,1123.50 L1287.02,1123.00 L1287.02,1122.50 L1287.02,1122.00 L1287.02,1121.50 L1287.02,1121.00 L1287.02,1120.50 L1287.02,1120.00 L1287.02,1119.50 L1287.02,1119.00 L1287.02,1118.50 L1287.02,1118.00 L1287.02,1117.50 L1287.02,1117.00 L1287.02,1116.50 L1287.02,1116.00 L1287.02,1115.50 L1287.02,1115.00 L1287.02,1114.50 L1287.02,1114.00 L1287.02,1113.50 L1287.02,1113.00 L1287.02,1112.50 L1287.02,1112.00 L1287.02,1111.50 L1287.02,1111.00 L1287.02,1110.50 L1287.02,1110.00 L1287.02,1109.50 L1287.02,1109.00 L1287.02,1108.50 L1287.02,1108.00 L1287.02,1107.50 L1287.02,1107.00 L1287.02,1106.50 L1287.02,1106.00 L1287.02,1105.50 L1287.02,1105.00 L1287.02,1104.50 L1287.02,1104.00 L1287.02,1103.50 L1287.02,1103.00 L1287.02,1102.50 L1287.02,1102.00 L1287.02,1101.50 L1287.02,1101.00 L1287.02,1100.50 L1287.02,1100.00 L1287.02,1099.50 L1287.02,1099.00 L1287.02,1098.50 L1287.02,1098.00 L1287.02,1097.50 L1287.02,1097.00 L1287.02,1096.50 L1287.02,1096.00 L1287.02,1095.50 L1287.02,1095.00 L1287.03,1094.50 L1287.03,1094.00 L1287.03,1093.50 L1287.03,1093.00 L1287.03,1092.50 L1287.03,1092.00 L1287.03,1091.50 L1287.03,1091.00 L1287.03,1090.50 L1287.03,1090.00 L1287.03,1089.50 L1287.03,1089.00 L1287.03,1088.50 L1287.03,1088.00 L1287.03,1087.50 L1287.03,1087.00 L1287.03,1086.50 L1287.03,1086.00 L1287.03,1085.50 L1287.03,1085.00 L1287.03,1084.50 L1287.03,1084.00 L1287.03,1083.50 L1287.03,1083.00 L1287.03,1082.50 L1287.03,1082.00 L1287.03,1081.50 L1287.03,1081.00 L1287.03,1080.50 L1287.03,1080.00 L1287.03,1079.50 L1287.03,1079.00 L1287.03,1078.50 L1287.03,1078.00 L1287.03,1077.50 L1287.03,1077.00 L1287.03,1076.50 L1287.03,1076.00 L1287.03,1075.50 L1287.03,1075.00 L1287.03,1074.50 L1287.03,1074.00 L1287.03,1073.50 L1287.03,1073.00 L1287.03,1072.50 L1287.03,1072.00 L1287.03,1071.50 L1287.03,1071.00 L1287.03,1070.50 L1287.03,1070.00 L1287.03,1069.50 L1287.03,1069.00 L1287.03,1068.50 L1287.03,1068.00 L1287.03,1067.50 L1287.03,1067.00 L1287.03,1066.50 L1287.03,1066.00 L1287.03,1065.50 L1287.03,1065.00 L1287.03,1064.50 L1287.03,1064.00 L1287.03,1063.50 L1287.03,1063.00 L1287.03,1062.50 L1287.03,1062.00 L1287.03,1061.50 L1287.03,1061.00 L1287.03,1060.50 L1287.03,1060.00 L1287.03,1059.50 L1287.03,1059.00 L1287.03,1058.50 L1287.03,1058.00 L1287.03,1057.50 L1287.03,1057.00 L1287.03,1056.50 L1287.03,1056.00 L1287.03,1055.50 L1287.03,1055.00 L1287.03,1054.50 L1287.03,1054.00 L1287.03,1053.50 L1287.03,1053.00 L1287.03,1052.50 L1287.03,1052.00 L1287.03,1051.50 L1287.03,1051.00 L1287.03,1050.50 L1287.03,1050.00 L1287.03,1049.50 L1287.03,1049.00 L1287.03,1048.50 L1287.03,1048.00 L1287.03,1047.50 L1287.03,1047.00 L1287.03,1046.50 L1287.03,1046.00 L1287.03,1045.50 L1287.03,1045.00 L1287.03,1044.50 L1287.03,1044.00 L1287.03,1043.50 L1287.03,1043.00 L1287.03,1042.50 L1287.03,1042.00 L1287.03,1041.50 L1287.03,1041.00 L1287.03,1040.50 L1287.03,1040.00 L1287.03,1039.50 L1287.03,1039.00 L1287.03,1038.50 L1287.03,1038.00 L1287.03,1037.50 L1287.03,1037.00 L1287.03,1036.50 L1287.03,1036.00 L1287.03,1035.50 L1287.03,1035.00 L1287.03,1034.50 L1287.03,1034.00 L1287.03,1033.50 L1287.03,1033.00 L1287.03,1032.50 L1287.03,1032.00 L1287.03,1031.50 L1287.03,1031.00 L1287.03,1030.50 L1287.03,1030.00 L1287.03,1029.50 L1287.03,1029.00 L1287.03,1028.50 L1287.03,1028.00 L1287.03,1027.50 L1287.03,1027.00 L1287.03,1026.50 L1287.03,1026.00 L1287.03,1025.50 L1287.03,1025.00 L1287.03,1024.50 L1287.03,1024.00 L1287.03,1023.50 L1287.03,1023.00 L1287.03,1022.50 L1287.03,1022.00 L1287.03,1021.50 L1287.03,1021.00 L1287.03,1020.50 L1287.03,1020.00 L1287.03,1019.50 L1287.03,1019.00 L1287.03,1018.50 L1287.03,1018.00 L1287.03,1017.50 L1287.03,1017.00 L1287.03,1016.50 L1287.03,1016.00 L1287.03,1015.50 L1287.03,1015.00 L1287.03,1014.50 L1287.03,1014.00 L1287.03,1013.50 L1287.03,1013.00 L1287.03,1012.50 L1287.03,1012.00 L1287.03,1011.50 L1287.03,1011.00 L1287.04,1010.50 L1287.04,1010.00 L1287.04,1009.50 L1287.04,1009.00 L1287.04,1008.50 L1287.04,1008.00 L1287.04,1007.50 L1287.04,1007.00 L1287.04,1006.50 L1287.04,1006.00 L1287.04,1005.50 L1287.04,1005.00 L1287.04,1004.50 L1287.04,1004.00 L1287.04,1003.50 L1287.04,1003.00 L1287.04,1002.50 L1287.04,1002.00 L1287.04,1001.50 L1287.04,1001.00 L1287.04,1000.50 L1287.04,1000.00 L1287.04,999.50 L1287.04,999.00 L1287.04,998.50 L1287.04,998.00 L1287.04,997.50 L1287.04,997.00 L1287.04,996.50 L1287.04,996.00 L1287.04,995.50 L1287.04,995.00 L1287.04,994.50 L1287.04,994.00 L1287.04,993.50 L1287.04,993.00 L1287.04,992.50 L1287.04,992.00 L1287.04,991.50 L1287.04,991.00 L1287.04,990.50 L1287.04,990.00 L1287.04,989.50 L1287.04,989.00 L1287.04,988.50 L1287.04,988.00 L1287.04,987.50 L1287.04,987.00 L1287.04,986.50 L1287.04,986.00 L1287.04,985.50 L1287.04,985.00 L1287.04,984.50 L1287.04,984.00 L1287.04,983.50 L1287.04,983.00 L1287.04,982.50 L1287.04,982.00 L1287.04,981.50 L1287.04,981.00 L1287.04,980.50 L1287.04,980.00 L1287.04,979.50 L1287.04,979.00 L1287.04,978.50 L1287.04,978.00 L1287.04,977.50 L1287.04,977.00 L1287.04,976.50 L1287.04,976.00 L1287.04,975.50 L1287.04,975.00 L1287.04,974.50 L1287.04,974.00 L1287.04,973.50 L1287.04,973.00 L1287.04,972.50 L1287.04,972.00 L1287.04,971.50 L1287.04,971.00 L1287.04,970.50 L1287.04,970.00 L1287.04,969.50 L1287.04,969.00 L1287.04,968.50 L1287.04,968.00 L1287.04,967.50 L1287.04,967.00 L1287.04,966.50 L1287.04,966.00 L1287.04,965.50 L1287.04,965.00 L1287.04,964.50 L1287.04,964.00 L1287.04,963.50 L1287.04,963.00 L1287.04,962.50 L1287.04,962.00 L1287.04,961.50 L1287.04,961.00 L1287.04,960.50 L1287.04,960.00 L1287.04,959.50 L1287.04,959.00 L1287.04,958.50 L1287.04,958.00 L1287.04,957.50 L1287.04,957.00 L1287.04,956.50 L1287.04,956.00 L1287.04,955.50 L1287.04,955.00 L1287.05,954.50 L1287.05,954.00 L1287.05,953.50 L1287.05,953.00 L1287.05,952.50 L1287.05,952.00 L1287.05,951.50 L1287.05,951.00 L1287.05,950.50 L1287.05,950.00 L1287.05,949.50 L1287.05,949.00 L1287.05,948.50 L1287.05,948.00 L1287.05,947.50 L1287.05,947.00 L1287.05,946.50 L1287.05,946.00 L1287.05,945.50 L1287.05,945.00 L1287.05,944.50 L1287.05,944.00 L1287.05,943.50 L1287.05,943.00 L1287.05,942.50 L1287.05,942.00 L1287.05,941.50 L1287.05,941.00 L1287.05,940.50 L1287.05,940.00 L1287.05,939.50 L1287.05,939.00 L1287.05,938.50 L1287.05,938.00 L1287.05,937.50 L1287.05,937.00 L1287.05,936.50 Z" fill="#f6a326" stroke="#111" stroke-width="2.5" stroke-linejoin="round"/>
<line x1="1241.5" y1="1413.8" x2="1333.5" y2="1413.8" stroke="#111" stroke-width="3.6" stroke-linecap="butt"/>
<path d="M1418.05,918.30 L1418.05,918.80 L1418.05,919.30 L1418.05,919.80 L1418.05,920.30 L1418.05,920.80 L1418.05,921.30 L1418.05,921.80 L1418.05,922.30 L1418.05,922.80 L1418.05,923.30 L1418.05,923.80 L1418.05,924.30 L1418.05,924.80 L1418.05,925.30 L1418.05,925.80 L1418.05,926.30 L1418.05,926.80 L1418.05,927.31 L1418.05,927.81 L1418.05,928.31 L1418.05,928.81 L1418.05,929.31 L1418.05,929.81 L1418.05,930.31 L1418.05,930.81 L1418.05,931.31 L1418.05,931.81 L1418.05,932.31 L1418.05,932.81 L1418.05,933.31 L1418.05,933.81 L1418.05,934.31 L1418.05,934.81 L1418.05,935.31 L1418.05,935.81 L1418.05,936.31 L1418.05,936.81 L1418.05,937.31 L1418.06,937.81 L1418.06,938.31 L1418.06,938.81 L1418.06,939.31 L1418.06,939.81 L1418.06,940.31 L1418.06,940.81 L1418.06,941.31 L1418.06,941.81 L1418.06,942.31 L1418.06,942.81 L1418.06,943.31 L1418.06,943.81 L1418.06,944.32 L1418.06,944.82 L1418.06,945.32 L1418.06,945.82 L1418.06,946.32 L1418.06,946.82 L1418.06,947.32 L1418.06,947.82 L1418.06,948.32 L1418.06,948.82 L1418.06,949.32 L1418.06,949.82 L1418.06,950.32 L1418.06,950.82 L1418.06,951.32 L1418.06,951.82 L1418.06,952.32 L1418.06,952.82 L1418.06,953.32 L1418.06,953.82 L1418.06,954.32 L1418.06,954.82 L1418.06,955.32 L1418.06,955.82 L1418.06,956.32 L1418.06,956.82 L1418.06,957.32 L1418.06,957.82 L1418.06,958.32 L1418.06,958.82 L1418.06,959.32 L1418.06,959.82 L1418.06,960.32 L1418.06,960.82 L1418.06,961.32 L1418.06,961.83 L1418.06,962.33 L1418.06,962.83 L1418.06,963.33 L1418.06,963.83 L1418.06,964.33 L1418.06,964.83 L1418.06,965.33 L1418.06,965.83 L1418.06,966.33 L1418.06,966.83 L1418.06,967.33 L1418.06,967.83 L1418.06,968.33 L1418.06,968.83 L1418.06,969.33 L1418.06,969.83 L1418.06,970.33 L1418.06,970.83 L1418.06,971.33 L1418.06,971.83 L1418.06,972.33 L1418.06,972.83 L1418.06,973.33 L1418.06,973.83 L1418.06,974.33 L1418.06,974.83 L1418.06,975.33 L1418.06,975.83 L1418.06,976.33 L1418.06,976.83 L1418.06,977.33 L1418.06,977.83 L1418.06,978.33 L1418.06,978.84 L1418.06,979.34 L1418.06,979.84 L1418.06,980.34 L1418.06,980.84 L1418.06,981.34 L1418.06,981.84 L1418.06,982.34 L1418.06,982.84 L1418.06,983.34 L1418.06,983.84 L1418.06,984.34 L1418.06,984.84 L1418.06,985.34 L1418.06,985.84 L1418.06,986.34 L1418.06,986.84 L1418.06,987.34 L1418.06,987.84 L1418.06,988.34 L1418.06,988.84 L1418.06,989.34 L1418.06,989.84 L1418.06,990.34 L1418.06,990.84 L1418.06,991.34 L1418.06,991.84 L1418.06,992.34 L1418.06,992.84 L1418.06,993.34 L1418.06,993.84 L1418.06,994.34 L1418.06,994.84 L1418.06,995.34 L1418.06,995.84 L1418.06,996.35 L1418.06,996.85 L1418.07,997.35 L1418.07,997.85 L1418.07,998.35 L1418.07,998.85 L1418.07,999.35 L1418.07,999.85 L1418.07,1000.35 L1418.07,1000.85 L1418.07,1001.35 L1418.07,1001.85 L1418.07,1002.35 L1418.07,1002.85 L1418.07,1003.35 L1418.07,1003.85 L1418.07,1004.35 L1418.07,1004.85 L1418.07,1005.35 L1418.07,1005.85 L1418.07,1006.35 L1418.07,1006.85 L1418.07,1007.35 L1418.07,1007.85 L1418.07,1008.35 L1418.07,1008.85 L1418.07,1009.35 L1418.07,1009.85 L1418.07,1010.35 L1418.07,1010.85 L1418.07,1011.35 L1418.07,1011.85 L1418.07,1012.35 L1418.07,1012.85 L1418.07,1013.35 L1418.07,1013.86 L1418.07,1014.36 L1418.07,1014.86 L1418.07,1015.36 L1418.07,1015.86 L1418.07,1016.36 L1418.07,1016.86 L1418.07,1017.36 L1418.07,1017.86 L1418.07,1018.36 L1418.07,1018.86 L1418.07,1019.36 L1418.07,1019.86 L1418.07,1020.36 L1418.07,1020.86 L1418.07,1021.36 L1418.07,1021.86 L1418.07,1022.36 L1418.07,1022.86 L1418.07,1023.36 L1418.07,1023.86 L1418.07,1024.36 L1418.07,1024.86 L1418.07,1025.36 L1418.07,1025.86 L1418.07,1026.36 L1418.07,1026.86 L1418.07,1027.36 L1418.07,1027.86 L1418.07,1028.36 L1418.07,1028.86 L1418.07,1029.36 L1418.07,1029.86 L1418.07,1030.36 L1418.07,1030.87 L1418.07,1031.37 L1418.07,1031.87 L1418.07,1032.37 L1418.07,1032.87 L1418.07,1033.37 L1418.07,1033.87 L1418.07,1034.37 L1418.07,1034.87 L1418.07,1035.37 L1418.07,1035.87 L1418.07,1036.37 L1418.07,1036.87 L1418.07,1037.37 L1418.07,1037.87 L1418.07,1038.37 L1418.07,1038.87 L1418.07,1039.37 L1418.07,1039.87 L1418.07,1040.37 L1418.07,1040.87 L1418.07,1041.37 L1418.07,1041.87 L1418.07,1042.37 L1418.07,1042.87 L1418.07,1043.37 L1418.07,1043.87 L1418.07,1044.37 L1418.07,1044.87 L1418.07,1045.37 L1418.07,1045.87 L1418.07,1046.37 L1418.07,1046.87 L1418.07,1047.37 L1418.07,1047.87 L1418.07,1048.38 L1418.07,1048.88 L1418.07,1049.38 L1418.07,1049.88 L1418.07,1050.38 L1418.07,1050.88 L1418.07,1051.38 L1418.07,1051.88 L1418.07,1052.38 L1418.07,1052.88 L1418.07,1053.38 L1418.07,1053.88 L1418.07,1054.38 L1418.07,1054.88 L1418.07,1055.38 L1418.07,1055.88 L1418.07,1056.38 L1418.07,1056.88 L1418.07,1057.38 L1418.07,1057.88 L1418.07,1058.38 L1418.07,1058.88 L1418.07,1059.38 L1418.07,1059.88 L1418.07,1060.38 L1418.07,1060.88 L1418.07,1061.38 L1418.07,1061.88 L1418.07,1062.38 L1418.07,1062.88 L1418.07,1063.38 L1418.07,1063.88 L1418.07,1064.38 L1418.07,1064.88 L1418.07,1065.39 L1418.07,1065.89 L1418.07,1066.39 L1418.07,1066.89 L1418.07,1067.39 L1418.07,1067.89 L1418.07,1068.39 L1418.07,1068.89 L1418.07,1069.39 L1418.07,1069.89 L1418.07,1070.39 L1418.07,1070.89 L1418.07,1071.39 L1418.07,1071.89 L1418.07,1072.39 L1418.07,1072.89 L1418.07,1073.39 L1418.07,1073.89 L1418.07,1074.39 L1418.07,1074.89 L1418.07,1075.39 L1418.07,1075.89 L1418.07,1076.39 L1418.07,1076.89 L1418.07,1077.39 L1418.07,1077.89 L1418.07,1078.39 L1418.07,1078.89 L1418.07,1079.39 L1418.07,1079.89 L1418.07,1080.39 L1418.07,1080.89 L1418.07,1081.39 L1418.07,1081.89 L1418.07,1082.39 L1418.07,1082.90 L1418.07,1083.40 L1418.07,1083.90 L1418.07,1084.40 L1418.07,1084.90 L1418.07,1085.40 L1418.08,1085.90 L1418.08,1086.40 L1418.08,1086.90 L1418.08,1087.40 L1418.08,1087.90 L1418.08,1088.40 L1418.08,1088.90 L1418.08,1089.40 L1418.08,1089.90 L1418.08,1090.40 L1418.08,1090.90 L1418.08,1091.40 L1418.08,1091.90 L1418.08,1092.40 L1418.08,1092.90 L1418.08,1093.40 L1418.08,1093.90 L1418.08,1094.40 L1418.08,1094.90 L1418.08,1095.40 L1418.08,1095.90 L1418.08,1096.40 L1418.08,1096.90 L1418.08,1097.40 L1418.08,1097.90 L1418.08,1098.40 L1418.08,1098.90 L1418.08,1099.40 L1418.08,1099.91 L1418.08,1100.41 L1418.08,1100.91 L1418.08,1101.41 L1418.08,1101.91 L1418.08,1102.41 L1418.08,1102.91 L1418.08,1103.41 L1418.08,1103.91 L1418.08,1104.41 L1418.08,1104.91 L1418.08,1105.41 L1418.08,1105.91 L1418.08,1106.41 L1418.08,1106.91 L1418.08,1107.41 L1418.08,1107.91 L1418.08,1108.41 L1418.08,1108.91 L1418.08,1109.41 L1418.08,1109.91 L1418.08,1110.41 L1418.08,1110.91 L1418.08,1111.41 L1418.08,1111.91 L1418.08,1112.41 L1418.08,1112.91 L1418.08,1113.41 L1418.08,1113.91 L1418.08,1114.41 L1418.08,1114.91 L1418.08,1115.41 L1418.08,1115.91 L1418.08,1116.41 L1418.08,1116.91 L1418.08,1117.42 L1418.08,1117.92 L1418.08,1118.42 L1418.08,1118.92 L1418.08,1119.42 L1418.08,1119.92 L1418.08,1120.42 L1418.08,1120.92 L1418.08,1121.42 L1418.08,1121.92 L1418.08,1122.42 L1418.08,1122.92 L1418.08,1123.42 L1418.08,1123.92 L1418.08,1124.42 L1418.08,1124.92 L1418.08,1125.42 L1418.08,1125.92 L1418.08,1126.42 L1418.08,1126.92 L1418.08,1127.42 L1418.08,1127.92 L1418.08,1128.42 L1418.08,1128.92 L1418.08,1129.42 L1418.08,1129.92 L1418.08,1130.42 L1418.08,1130.92 L1418.08,1131.42 L1418.08,1131.92 L1418.08,1132.42 L1418.08,1132.92 L1418.08,1133.42 L1418.08,1133.92 L1418.08,1134.43 L1418.08,1134.93 L1418.08,1135.43 L1418.08,1135.93 L1418.08,1136.43 L1418.08,1136.93 L1418.08,1137.43 L1418.09,1137.93 L1418.09,1138.43 L1418.09,1138.93 L1418.09,1139.43 L1418.09,1139.93 L1418.09,1140.43 L1418.09,1140.93 L1418.09,1141.43 L1418.09,1141.93 L1418.09,1142.43 L1418.09,1142.93 L1418.09,1143.43 L1418.09,1143.93 L1418.09,1144.43 L1418.09,1144.93 L1418.09,1145.43 L1418.09,1145.93 L1418.09,1146.43 L1418.09,1146.93 L1418.09,1147.43 L1418.09,1147.93 L1418.09,1148.43 L1418.09,1148.93 L1418.09,1149.43 L1418.09,1149.93 L1418.09,1150.43 L1418.09,1150.93 L1418.09,1151.43 L1418.09,1151.94 L1418.09,1152.44 L1418.09,1152.94 L1418.09,1153.44 L1418.09,1153.94 L1418.09,1154.44 L1418.09,1154.94 L1418.09,1155.44 L1418.09,1155.94 L1418.09,1156.44 L1418.09,1156.94 L1418.09,1157.44 L1418.09,1157.94 L1418.09,1158.44 L1418.09,1158.94 L1418.09,1159.44 L1418.09,1159.94 L1418.09,1160.44 L1418.09,1160.94 L1418.09,1161.44 L1418.09,1161.94 L1418.09,1162.44 L1418.09,1162.94 L1418.09,1163.44 L1418.09,1163.94 L1418.09,1164.44 L1418.09,1164.94 L1418.09,1165.44 L1418.09,1165.94 L1418.09,1166.44 L1418.09,1166.94 L1418.09,1167.44 L1418.09,1167.94 L1418.09,1168.44 L1418.09,1168.95 L1418.09,1169.45 L1418.09,1169.95 L1418.10,1170.45 L1418.10,1170.95 L1418.10,1171.45 L1418.10,1171.95 L1418.10,1172.45 L1418.10,1172.95 L1418.10,1173.45 L1418.10,1173.95 L1418.10,1174.45 L1418.10,1174.95 L1418.10,1175.45 L1418.10,1175.95 L1418.10,1176.45 L1418.10,1176.95 L1418.10,1177.45 L1418.10,1177.95 L1418.10,1178.45 L1418.10,1178.95 L1418.10,1179.45 L1418.10,1179.95 L1418.10,1180.45 L1418.10,1180.95 L1418.10,1181.45 L1418.10,1181.95 L1418.10,1182.45 L1418.10,1182.95 L1418.10,1183.45 L1418.10,1183.95 L1418.10,1184.45 L1418.10,1184.95 L1418.10,1185.45 L1418.10,1185.95 L1418.10,1186.46 L1418.10,1186.96 L1418.10,1187.46 L1418.10,1187.96 L1418.10,1188.46 L1418.10,1188.96 L1418.10,1189.46 L1418.10,1189.96 L1418.10,1190.46 L1418.10,1190.96 L1418.10,1191.46 L1418.10,1191.96 L1418.10,1192.46 L1418.10,1192.96 L1418.10,1193.46 L1418.10,1193.96 L1418.11,1194.46 L1418.11,1194.96 L1418.11,1195.46 L1418.11,1195.96 L1418.11,1196.46 L1418.11,1196.96 L1418.11,1197.46 L1418.11,1197.96 L1418.11,1198.46 L1418.11,1198.96 L1418.11,1199.46 L1418.11,1199.96 L1418.11,1200.46 L1418.11,1200.96 L1418.11,1201.46 L1418.11,1201.96 L1418.11,1202.46 L1418.11,1202.96 L1418.11,1203.46 L1418.11,1203.97 L1418.11,1204.47 L1418.11,1204.97 L1418.11,1205.47 L1418.11,1205.97 L1418.11,1206.47 L1418.11,1206.97 L1418.11,1207.47 L1418.11,1207.97 L1418.11,1208.47 L1418.11,1208.97 L1418.11,1209.47 L1418.11,1209.97 L1418.11,1210.47 L1418.11,1210.97 L1418.11,1211.47 L1418.11,1211.97 L1418.11,1212.47 L1418.11,1212.97 L1418.11,1213.47 L1418.12,1213.97 L1418.12,1214.47 L1418.12,1214.97 L1418.12,1215.47 L1418.12,1215.97 L1418.12,1216.47 L1418.12,1216.97 L1418.12,1217.47 L1418.12,1217.97 L1418.12,1218.47 L1418.12,1218.97 L1418.12,1219.47 L1418.12,1219.97 L1418.12,1220.47 L1418.12,1220.98 L1418.12,1221.48 L1418.12,1221.98 L1418.12,1222.48 L1418.12,1222.98 L1418.12,1223.48 L1418.12,1223.98 L1418.12,1224.48 L1418.12,1224.98 L1418.12,1225.48 L1418.12,1225.98 L1418.12,1226.48 L1418.12,1226.98 L1418.12,1227.48 L1418.12,1227.98 L1418.12,1228.48 L1418.12,1228.98 L1418.12,1229.48 L1418.12,1229.98 L1418.12,1230.48 L1418.13,1230.98 L1418.13,1231.48 L1418.13,1231.98 L1418.13,1232.48 L1418.13,1232.98 L1418.13,1233.48 L1418.13,1233.98 L1418.13,1234.48 L1418.13,1234.98 L1418.13,1235.48 L1418.13,1235.98 L1418.13,1236.48 L1418.13,1236.98 L1418.13,1237.48 L1418.13,1237.98 L1418.13,1238.49 L1418.13,1238.99 L1418.13,1239.49 L1418.13,1239.99 L1418.13,1240.49 L1418.13,1240.99 L1418.13,1241.49 L1418.13,1241.99 L1418.13,1242.49 L1418.13,1242.99 L1418.13,1243.49 L1418.13,1243.99 L1418.13,1244.49 L1418.13,1244.99 L1418.14,1245.49 L1418.14,1245.99 L1418.14,1246.49 L1418.14,1246.99 L1418.14,1247.49 L1418.14,1247.99 L1418.14,1248.49 L1418.14,1248.99 L1418.14,1249.49 L1418.14,1249.99 L1418.14,1250.49 L1418.14,1250.99 L1418.14,1251.49 L1418.14,1251.99 L1418.14,1252.49 L1418.14,1252.99 L1418.14,1253.49 L1418.14,1253.99 L1418.14,1254.49 L1418.14,1254.99 L1418.14,1255.50 L1418.14,1256.00 L1418.14,1256.50 L1418.14,1257.00 L1418.14,1257.50 L1418.15,1258.00 L1418.15,1258.50 L1418.15,1259.00 L1418.15,1259.50 L1418.15,1260.00 L1418.15,1260.50 L1418.15,1261.00 L1418.15,1261.50 L1418.15,1262.00 L1418.15,1262.50 L1418.15,1263.00 L1418.15,1263.50 L1418.15,1264.00 L1418.16,1264.50 L1418.19,1265.00 L1418.23,1265.50 L1418.28,1266.00 L1418.35,1266.50 L1418.42,1267.00 L1418.50,1267.50 L1418.59,1268.00 L1418.67,1268.50 L1418.75,1269.00 L1418.83,1269.50 L1418.90,1270.00 L1418.97,1270.50 L1419.04,1271.00 L1419.12,1271.50 L1419.20,1272.00 L1419.28,1272.50 L1419.37,1273.00 L1419.45,1273.50 L1419.53,1274.00 L1419.61,1274.50 L1419.69,1275.00 L1419.77,1275.50 L1419.85,1276.00 L1419.92,1276.50 L1419.98,1277.00 L1420.05,1277.50 L1420.10,1278.00 L1420.15,1278.50 L1420.20,1279.00 L1420.26,1279.50 L1420.31,1280.00 L1420.36,1280.50 L1420.41,1281.00 L1420.45,1281.50 L1420.50,1282.00 L1420.54,1282.50 L1420.59,1283.00 L1420.63,1283.50 L1420.66,1284.00 L1420.69,1284.50 L1420.72,1285.00 L1420.75,1285.50 L1420.77,1286.00 L1420.79,1286.50 L1420.80,1287.00 L1420.81,1287.50 L1420.82,1288.00 L1420.83,1288.50 L1420.84,1289.00 L1420.84,1289.50 L1420.85,1290.00 L1420.86,1290.50 L1420.87,1291.00 L1420.87,1291.50 L1420.88,1292.00 L1420.88,1292.50 L1420.89,1293.00 L1420.89,1293.50 L1420.89,1294.00 L1420.90,1294.50 L1420.90,1295.00 L1420.90,1295.50 L1420.90,1296.00 L1420.90,1296.50 L1420.89,1297.00 L1420.88,1297.50 L1420.87,1298.00 L1420.85,1298.50 L1420.83,1299.00 L1420.80,1299.50 L1420.77,1300.00 L1420.74,1300.50 L1420.71,1301.00 L1420.67,1301.50 L1420.64,1302.00 L1420.60,1302.50 L1420.56,1303.00 L1420.52,1303.50 L1420.47,1304.00 L1420.43,1304.50 L1420.39,1305.00 L1420.34,1305.50 L1420.30,1306.00 L1420.25,1306.50 L1420.20,1307.00 L1420.13,1307.50 L1420.06,1308.00 L1419.99,1308.50 L1419.91,1309.00 L1419.82,1309.50 L1419.74,1310.00 L1419.65,1310.50 L1419.56,1311.00 L1419.48,1311.50 L1419.40,1312.00 L1419.31,1312.50 L1419.24,1313.00 L1419.17,1313.50 L1419.10,1314.00 L1419.03,1314.50 L1418.97,1315.00 L1418.89,1315.50 L1418.82,1316.00 L1418.75,1316.50 L1418.68,1317.00 L1418.62,1317.50 L1418.56,1318.00 L1418.52,1318.50 L1418.48,1319.00 L1418.46,1319.50 L1418.45,1320.00 L1418.45,1320.50 L1418.45,1321.00 L1418.45,1321.50 L1418.45,1322.00 L1418.45,1322.50 L1418.45,1323.00 L1418.45,1323.50 L1418.45,1324.00 L1418.45,1324.50 L1418.45,1325.00 L1418.45,1325.50 L1418.45,1326.00 L1418.45,1326.50 L1418.45,1327.00 L1418.45,1327.50 L1418.45,1328.00 L1418.45,1328.50 L1418.45,1329.00 L1418.45,1329.50 L1418.45,1330.00 L1418.45,1330.50 L1418.45,1331.00 L1418.45,1331.50 L1418.45,1332.00 L1418.45,1332.50 L1418.45,1333.00 L1418.45,1333.50 L1418.45,1334.00 L1418.45,1334.50 L1418.45,1335.00 L1418.46,1335.50 L1418.46,1336.00 L1418.46,1336.50 L1418.46,1337.00 L1418.46,1337.50 L1418.46,1338.00 L1418.46,1338.50 L1418.46,1339.00 L1418.46,1339.50 L1418.46,1340.00 L1418.46,1340.50 L1418.46,1341.00 L1418.46,1341.50 L1418.46,1342.00 L1418.46,1342.50 L1418.46,1343.00 L1418.46,1343.50 L1418.47,1344.00 L1418.47,1344.50 L1418.47,1345.00 L1418.47,1345.50 L1418.47,1346.00 L1418.47,1346.50 L1418.47,1347.00 L1418.47,1347.50 L1418.47,1348.00 L1418.47,1348.50 L1418.47,1349.00 L1418.48,1349.50 L1418.48,1350.00 L1418.48,1350.50 L1418.48,1351.00 L1418.48,1351.50 L1418.48,1352.00 L1418.48,1352.50 L1418.48,1353.00 L1418.49,1353.50 L1418.49,1354.00 L1418.49,1354.50 L1418.49,1355.00 L1418.49,1355.50 L1418.49,1356.00 L1418.50,1356.50 L1418.50,1357.00 L1418.50,1357.50 L1418.50,1358.00 L1418.51,1358.50 L1418.53,1359.00 L1418.55,1359.50 L1418.59,1360.00 L1418.63,1360.50 L1418.68,1361.00 L1418.73,1361.50 L1418.79,1362.00 L1418.84,1362.50 L1418.90,1363.00 L1418.96,1363.50 L1419.02,1364.00 L1419.10,1364.50 L1419.18,1365.00 L1419.26,1365.50 L1419.36,1366.00 L1419.46,1366.50 L1419.56,1367.00 L1419.68,1367.50 L1419.80,1368.00 L1419.94,1368.50 L1420.10,1369.00 L1420.28,1369.50 L1420.47,1370.00 L1420.69,1370.50 L1420.91,1371.00 L1421.15,1371.50 L1421.40,1372.00 L1421.67,1372.50 L1421.96,1373.00 L1422.28,1373.50 L1422.62,1374.00 L1422.98,1374.50 L1423.34,1375.00 L1423.72,1375.50 L1424.10,1376.00 L1424.49,1376.50 L1424.89,1377.00 L1425.31,1377.50 L1425.74,1378.00 L1426.18,1378.50 L1426.64,1379.00 L1427.11,1379.50 L1427.60,1380.00 L1428.11,1380.50 L1428.63,1381.00 L1429.18,1381.50 L1429.75,1382.00 L1430.33,1382.50 L1430.92,1383.00 L1431.51,1383.50 L1432.10,1384.00 L1432.70,1384.50 L1433.31,1385.00 L1433.94,1385.50 L1434.57,1386.00 L1435.20,1386.50 L1435.84,1387.00 L1436.47,1387.50 L1437.10,1388.00 L1437.72,1388.50 L1438.35,1389.00 L1438.97,1389.50 L1439.60,1390.00 L1440.22,1390.50 L1440.85,1391.00 L1441.47,1391.50 L1442.10,1392.00 L1442.72,1392.50 L1443.35,1393.00 L1443.97,1393.50 L1444.60,1394.00 L1445.22,1394.50 L1445.85,1395.00 L1446.47,1395.50 L1447.10,1396.00 L1447.73,1396.50 L1448.36,1397.00 L1449.00,1397.50 L1449.63,1398.00 L1450.26,1398.50 L1450.89,1399.00 L1451.50,1399.50 L1452.10,1400.00 L1452.69,1400.50 L1453.27,1401.00 L1453.85,1401.50 L1454.41,1402.00 L1454.97,1402.50 L1455.52,1403.00 L1456.07,1403.50 L1456.60,1404.00 L1457.13,1404.50 L1457.65,1405.00 L1458.17,1405.50 L1458.68,1406.00 L1459.18,1406.50 L1459.66,1407.00 L1460.14,1407.50 L1460.60,1408.00 L1461.07,1408.50 L1461.56,1409.00 L1462.03,1409.50 L1462.46,1410.00 L1462.83,1410.50 L1463.10,1411.00 L1463.31,1411.56 L1463.48,1412.12 L1463.62,1412.68 L1463.75,1413.24 L1463.90,1413.80 L1371.30,1413.80 L1371.45,1413.24 L1371.58,1412.68 L1371.72,1412.12 L1371.89,1411.56 L1372.10,1411.00 L1372.37,1410.50 L1372.74,1410.00 L1373.17,1409.50 L1373.64,1409.00 L1374.13,1408.50 L1374.60,1408.00 L1375.06,1407.50 L1375.54,1407.00 L1376.02,1406.50 L1376.52,1406.00 L1377.03,1405.50 L1377.55,1405.00 L1378.07,1404.50 L1378.60,1404.00 L1379.13,1403.50 L1379.68,1403.00 L1380.23,1402.50 L1380.79,1402.00 L1381.35,1401.50 L1381.93,1401.00 L1382.51,1400.50 L1383.10,1400.00 L1383.70,1399.50 L1384.31,1399.00 L1384.94,1398.50 L1385.57,1398.00 L1386.20,1397.50 L1386.84,1397.00 L1387.47,1396.50 L1388.10,1396.00 L1388.72,1395.50 L1389.35,1395.00 L1389.97,1394.50 L1390.60,1394.00 L1391.22,1393.50 L1391.85,1393.00 L1392.47,1392.50 L1393.10,1392.00 L1393.72,1391.50 L1394.35,1391.00 L1394.97,1390.50 L1395.60,1390.00 L1396.22,1389.50 L1396.85,1389.00 L1397.47,1388.50 L1398.10,1388.00 L1398.73,1387.50 L1399.36,1387.00 L1400.00,1386.50 L1400.63,1386.00 L1401.26,1385.50 L1401.89,1385.00 L1402.50,1384.50 L1403.10,1384.00 L1403.69,1383.50 L1404.28,1383.00 L1404.87,1382.50 L1405.45,1382.00 L1406.02,1381.50 L1406.57,1381.00 L1407.09,1380.50 L1407.60,1380.00 L1408.09,1379.50 L1408.56,1379.00 L1409.02,1378.50 L1409.46,1378.00 L1409.89,1377.50 L1410.31,1377.00 L1410.71,1376.50 L1411.10,1376.00 L1411.48,1375.50 L1411.86,1375.00 L1412.22,1374.50 L1412.58,1374.00 L1412.92,1373.50 L1413.24,1373.00 L1413.53,1372.50 L1413.80,1372.00 L1414.05,1371.50 L1414.29,1371.00 L1414.51,1370.50 L1414.73,1370.00 L1414.92,1369.50 L1415.10,1369.00 L1415.26,1368.50 L1415.40,1368.00 L1415.52,1367.50 L1415.64,1367.00 L1415.74,1366.50 L1415.84,1366.00 L1415.94,1365.50 L1416.02,1365.00 L1416.10,1364.50 L1416.18,1364.00 L1416.24,1363.50 L1416.30,1363.00 L1416.36,1362.50 L1416.41,1362.00 L1416.47,1361.50 L1416.52,1361.00 L1416.57,1360.50 L1416.61,1360.00 L1416.65,1359.50 L1416.67,1359.00 L1416.69,1358.50 L1416.70,1358.00 L1416.70,1357.50 L1416.70,1357.00 L1416.70,1356.50 L1416.71,1356.00 L1416.71,1355.50 L1416.71,1355.00 L1416.71,1354.50 L1416.71,1354.00 L1416.71,1353.50 L1416.72,1353.00 L1416.72,1352.50 L1416.72,1352.00 L1416.72,1351.50 L1416.72,1351.00 L1416.72,1350.50 L1416.72,1350.00 L1416.72,1349.50 L1416.73,1349.00 L1416.73,1348.50 L1416.73,1348.00 L1416.73,1347.50 L1416.73,1347.00 L1416.73,1346.50 L1416.73,1346.00 L1416.73,1345.50 L1416.73,1345.00 L1416.73,1344.50 L1416.73,1344.00 L1416.74,1343.50 L1416.74,1343.00 L1416.74,1342.50 L1416.74,1342.00 L1416.74,1341.50 L1416.74,1341.00 L1416.74,1340.50 L1416.74,1340.00 L1416.74,1339.50 L1416.74,1339.00 L1416.74,1338.50 L1416.74,1338.00 L1416.74,1337.50 L1416.74,1337.00 L1416.74,1336.50 L1416.74,1336.00 L1416.74,1335.50 L1416.75,1335.00 L1416.75,1334.50 L1416.75,1334.00 L1416.75,1333.50 L1416.75,1333.00 L1416.75,1332.50 L1416.75,1332.00 L1416.75,1331.50 L1416.75,1331.00 L1416.75,1330.50 L1416.75,1330.00 L1416.75,1329.50 L1416.75,1329.00 L1416.75,1328.50 L1416.75,1328.00 L1416.75,1327.50 L1416.75,1327.00 L1416.75,1326.50 L1416.75,1326.00 L1416.75,1325.50 L1416.75,1325.00 L1416.75,1324.50 L1416.75,1324.00 L1416.75,1323.50 L1416.75,1323.00 L1416.75,1322.50 L1416.75,1322.00 L1416.75,1321.50 L1416.75,1321.00 L1416.75,1320.50 L1416.75,1320.00 L1416.74,1319.50 L1416.72,1319.00 L1416.68,1318.50 L1416.64,1318.00 L1416.58,1317.50 L1416.52,1317.00 L1416.45,1316.50 L1416.38,1316.00 L1416.31,1315.50 L1416.23,1315.00 L1416.17,1314.50 L1416.10,1314.00 L1416.03,1313.50 L1415.96,1313.00 L1415.89,1312.50 L1415.80,1312.00 L1415.72,1311.50 L1415.64,1311.00 L1415.55,1310.50 L1415.46,1310.00 L1415.38,1309.50 L1415.29,1309.00 L1415.21,1308.50 L1415.14,1308.00 L1415.07,1307.50 L1415.00,1307.00 L1414.95,1306.50 L1414.90,1306.00 L1414.86,1305.50 L1414.81,1305.00 L1414.77,1304.50 L1414.73,1304.00 L1414.68,1303.50 L1414.64,1303.00 L1414.60,1302.50 L1414.56,1302.00 L1414.53,1301.50 L1414.49,1301.00 L1414.46,1300.50 L1414.43,1300.00 L1414.40,1299.50 L1414.37,1299.00 L1414.35,1298.50 L1414.33,1298.00 L1414.32,1297.50 L1414.31,1297.00 L1414.30,1296.50 L1414.30,1296.00 L1414.30,1295.50 L1414.30,1295.00 L1414.30,1294.50 L1414.31,1294.00 L1414.31,1293.50 L1414.31,1293.00 L1414.32,1292.50 L1414.32,1292.00 L1414.33,1291.50 L1414.33,1291.00 L1414.34,1290.50 L1414.35,1290.00 L1414.36,1289.50 L1414.36,1289.00 L1414.37,1288.50 L1414.38,1288.00 L1414.39,1287.50 L1414.40,1287.00 L1414.41,1286.50 L1414.43,1286.00 L1414.45,1285.50 L1414.48,1285.00 L1414.51,1284.50 L1414.54,1284.00 L1414.57,1283.50 L1414.61,1283.00 L1414.66,1282.50 L1414.70,1282.00 L1414.75,1281.50 L1414.79,1281.00 L1414.84,1280.50 L1414.89,1280.00 L1414.94,1279.50 L1415.00,1279.00 L1415.05,1278.50 L1415.10,1278.00 L1415.15,1277.50 L1415.22,1277.00 L1415.28,1276.50 L1415.35,1276.00 L1415.43,1275.50 L1415.51,1275.00 L1415.59,1274.50 L1415.67,1274.00 L1415.75,1273.50 L1415.83,1273.00 L1415.92,1272.50 L1416.00,1272.00 L1416.08,1271.50 L1416.16,1271.00 L1416.23,1270.50 L1416.30,1270.00 L1416.37,1269.50 L1416.45,1269.00 L1416.53,1268.50 L1416.61,1268.00 L1416.70,1267.50 L1416.78,1267.00 L1416.85,1266.50 L1416.92,1266.00 L1416.97,1265.50 L1417.01,1265.00 L1417.04,1264.50 L1417.05,1264.00 L1417.05,1263.50 L1417.05,1263.00 L1417.05,1262.50 L1417.05,1262.00 L1417.05,1261.50 L1417.05,1261.00 L1417.05,1260.50 L1417.05,1260.00 L1417.05,1259.50 L1417.05,1259.00 L1417.05,1258.50 L1417.05,1258.00 L1417.06,1257.50 L1417.06,1257.00 L1417.06,1256.50 L1417.06,1256.00 L1417.06,1255.50 L1417.06,1254.99 L1417.06,1254.49 L1417.06,1253.99 L1417.06,1253.49 L1417.06,1252.99 L1417.06,1252.49 L1417.06,1251.99 L1417.06,1251.49 L1417.06,1250.99 L1417.06,1250.49 L1417.06,1249.99 L1417.06,1249.49 L1417.06,1248.99 L1417.06,1248.49 L1417.06,1247.99 L1417.06,1247.49 L1417.06,1246.99 L1417.06,1246.49 L1417.06,1245.99 L1417.06,1245.49 L1417.07,1244.99 L1417.07,1244.49 L1417.07,1243.99 L1417.07,1243.49 L1417.07,1242.99 L1417.07,1242.49 L1417.07,1241.99 L1417.07,1241.49 L1417.07,1240.99 L1417.07,1240.49 L1417.07,1239.99 L1417.07,1239.49 L1417.07,1238.99 L1417.07,1238.49 L1417.07,1237.98 L1417.07,1237.48 L1417.07,1236.98 L1417.07,1236.48 L1417.07,1235.98 L1417.07,1235.48 L1417.07,1234.98 L1417.07,1234.48 L1417.07,1233.98 L1417.07,1233.48 L1417.07,1232.98 L1417.07,1232.48 L1417.07,1231.98 L1417.07,1231.48 L1417.07,1230.98 L1417.08,1230.48 L1417.08,1229.98 L1417.08,1229.48 L1417.08,1228.98 L1417.08,1228.48 L1417.08,1227.98 L1417.08,1227.48 L1417.08,1226.98 L1417.08,1226.48 L1417.08,1225.98 L1417.08,1225.48 L1417.08,1224.98 L1417.08,1224.48 L1417.08,1223.98 L1417.08,1223.48 L1417.08,1222.98 L1417.08,1222.48 L1417.08,1221.98 L1417.08,1221.48 L1417.08,1220.98 L1417.08,1220.47 L1417.08,1219.97 L1417.08,1219.47 L1417.08,1218.97 L1417.08,1218.47 L1417.08,1217.97 L1417.08,1217.47 L1417.08,1216.97 L1417.08,1216.47 L1417.08,1215.97 L1417.08,1215.47 L1417.08,1214.97 L1417.08,1214.47 L1417.08,1213.97 L1417.09,1213.47 L1417.09,1212.97 L1417.09,1212.47 L1417.09,1211.97 L1417.09,1211.47 L1417.09,1210.97 L1417.09,1210.47 L1417.09,1209.97 L1417.09,1209.47 L1417.09,1208.97 L1417.09,1208.47 L1417.09,1207.97 L1417.09,1207.47 L1417.09,1206.97 L1417.09,1206.47 L1417.09,1205.97 L1417.09,1205.47 L1417.09,1204.97 L1417.09,1204.47 L1417.09,1203.97 L1417.09,1203.46 L1417.09,1202.96 L1417.09,1202.46 L1417.09,1201.96 L1417.09,1201.46 L1417.09,1200.96 L1417.09,1200.46 L1417.09,1199.96 L1417.09,1199.46 L1417.09,1198.96 L1417.09,1198.46 L1417.09,1197.96 L1417.09,1197.46 L1417.09,1196.96 L1417.09,1196.46 L1417.09,1195.96 L1417.09,1195.46 L1417.09,1194.96 L1417.09,1194.46 L1417.10,1193.96 L1417.10,1193.46 L1417.10,1192.96 L1417.10,1192.46 L1417.10,1191.96 L1417.10,1191.46 L1417.10,1190.96 L1417.10,1190.46 L1417.10,1189.96 L1417.10,1189.46 L1417.10,1188.96 L1417.10,1188.46 L1417.10,1187.96 L1417.10,1187.46 L1417.10,1186.96 L1417.10,1186.46 L1417.10,1185.95 L1417.10,1185.45 L1417.10,1184.95 L1417.10,1184.45 L1417.10,1183.95 L1417.10,1183.45 L1417.10,1182.95 L1417.10,1182.45 L1417.10,1181.95 L1417.10,1181.45 L1417.10,1180.95 L1417.10,1180.45 L1417.10,1179.95 L1417.10,1179.45 L1417.10,1178.95 L1417.10,1178.45 L1417.10,1177.95 L1417.10,1177.45 L1417.10,1176.95 L1417.10,1176.45 L1417.10,1175.95 L1417.10,1175.45 L1417.10,1174.95 L1417.10,1174.45 L1417.10,1173.95 L1417.10,1173.45 L1417.10,1172.95 L1417.10,1172.45 L1417.10,1171.95 L1417.10,1171.45 L1417.10,1170.95 L1417.10,1170.45 L1417.11,1169.95 L1417.11,1169.45 L1417.11,1168.95 L1417.11,1168.44 L1417.11,1167.94 L1417.11,1167.44 L1417.11,1166.94 L1417.11,1166.44 L1417.11,1165.94 L1417.11,1165.44 L1417.11,1164.94 L1417.11,1164.44 L1417.11,1163.94 L1417.11,1163.44 L1417.11,1162.94 L1417.11,1162.44 L1417.11,1161.94 L1417.11,1161.44 L1417.11,1160.94 L1417.11,1160.44 L1417.11,1159.94 L1417.11,1159.44 L1417.11,1158.94 L1417.11,1158.44 L1417.11,1157.94 L1417.11,1157.44 L1417.11,1156.94 L1417.11,1156.44 L1417.11,1155.94 L1417.11,1155.44 L1417.11,1154.94 L1417.11,1154.44 L1417.11,1153.94 L1417.11,1153.44 L1417.11,1152.94 L1417.11,1152.44 L1417.11,1151.94 L1417.11,1151.43 L1417.11,1150.93 L1417.11,1150.43 L1417.11,1149.93 L1417.11,1149.43 L1417.11,1148.93 L1417.11,1148.43 L1417.11,1147.93 L1417.11,1147.43 L1417.11,1146.93 L1417.11,1146.43 L1417.11,1145.93 L1417.11,1145.43 L1417.11,1144.93 L1417.11,1144.43 L1417.11,1143.93 L1417.11,1143.43 L1417.11,1142.93 L1417.11,1142.43 L1417.11,1141.93 L1417.11,1141.43 L1417.11,1140.93 L1417.11,1140.43 L1417.11,1139.93 L1417.11,1139.43 L1417.11,1138.93 L1417.11,1138.43 L1417.11,1137.93 L1417.12,1137.43 L1417.12,1136.93 L1417.12,1136.43 L1417.12,1135.93 L1417.12,1135.43 L1417.12,1134.93 L1417.12,1134.43 L1417.12,1133.92 L1417.12,1133.42 L1417.12,1132.92 L1417.12,1132.42 L1417.12,1131.92 L1417.12,1131.42 L1417.12,1130.92 L1417.12,1130.42 L1417.12,1129.92 L1417.12,1129.42 L1417.12,1128.92 L1417.12,1128.42 L1417.12,1127.92 L1417.12,1127.42 L1417.12,1126.92 L1417.12,1126.42 L1417.12,1125.92 L1417.12,1125.42 L1417.12,1124.92 L1417.12,1124.42 L1417.12,1123.92 L1417.12,1123.42 L1417.12,1122.92 L1417.12,1122.42 L1417.12,1121.92 L1417.12,1121.42 L1417.12,1120.92 L1417.12,1120.42 L1417.12,1119.92 L1417.12,1119.42 L1417.12,1118.92 L1417.12,1118.42 L1417.12,1117.92 L1417.12,1117.42 L1417.12,1116.91 L1417.12,1116.41 L1417.12,1115.91 L1417.12,1115.41 L1417.12,1114.91 L1417.12,1114.41 L1417.12,1113.91 L1417.12,1113.41 L1417.12,1112.91 L1417.12,1112.41 L1417.12,1111.91 L1417.12,1111.41 L1417.12,1110.91 L1417.12,1110.41 L1417.12,1109.91 L1417.12,1109.41 L1417.12,1108.91 L1417.12,1108.41 L1417.12,1107.91 L1417.12,1107.41 L1417.12,1106.91 L1417.12,1106.41 L1417.12,1105.91 L1417.12,1105.41 L1417.12,1104.91 L1417.12,1104.41 L1417.12,1103.91 L1417.12,1103.41 L1417.12,1102.91 L1417.12,1102.41 L1417.12,1101.91 L1417.12,1101.41 L1417.12,1100.91 L1417.12,1100.41 L1417.12,1099.91 L1417.12,1099.40 L1417.12,1098.90 L1417.12,1098.40 L1417.12,1097.90 L1417.12,1097.40 L1417.12,1096.90 L1417.12,1096.40 L1417.12,1095.90 L1417.12,1095.40 L1417.12,1094.90 L1417.12,1094.40 L1417.12,1093.90 L1417.12,1093.40 L1417.12,1092.90 L1417.12,1092.40 L1417.12,1091.90 L1417.12,1091.40 L1417.12,1090.90 L1417.12,1090.40 L1417.12,1089.90 L1417.12,1089.40 L1417.12,1088.90 L1417.12,1088.40 L1417.12,1087.90 L1417.12,1087.40 L1417.12,1086.90 L1417.12,1086.40 L1417.12,1085.90 L1417.13,1085.40 L1417.13,1084.90 L1417.13,1084.40 L1417.13,1083.90 L1417.13,1083.40 L1417.13,1082.90 L1417.13,1082.39 L1417.13,1081.89 L1417.13,1081.39 L1417.13,1080.89 L1417.13,1080.39 L1417.13,1079.89 L1417.13,1079.39 L1417.13,1078.89 L1417.13,1078.39 L1417.13,1077.89 L1417.13,1077.39 L1417.13,1076.89 L1417.13,1076.39 L1417.13,1075.89 L1417.13,1075.39 L1417.13,1074.89 L1417.13,1074.39 L1417.13,1073.89 L1417.13,1073.39 L1417.13,1072.89 L1417.13,1072.39 L1417.13,1071.89 L1417.13,1071.39 L1417.13,1070.89 L1417.13,1070.39 L1417.13,1069.89 L1417.13,1069.39 L1417.13,1068.89 L1417.13,1068.39 L1417.13,1067.89 L1417.13,1067.39 L1417.13,1066.89 L1417.13,1066.39 L1417.13,1065.89 L1417.13,1065.39 L1417.13,1064.88 L1417.13,1064.38 L1417.13,1063.88 L1417.13,1063.38 L1417.13,1062.88 L1417.13,1062.38 L1417.13,1061.88 L1417.13,1061.38 L1417.13,1060.88 L1417.13,1060.38 L1417.13,1059.88 L1417.13,1059.38 L1417.13,1058.88 L1417.13,1058.38 L1417.13,1057.88 L1417.13,1057.38 L1417.13,1056.88 L1417.13,1056.38 L1417.13,1055.88 L1417.13,1055.38 L1417.13,1054.88 L1417.13,1054.38 L1417.13,1053.88 L1417.13,1053.38 L1417.13,1052.88 L1417.13,1052.38 L1417.13,1051.88 L1417.13,1051.38 L1417.13,1050.88 L1417.13,1050.38 L1417.13,1049.88 L1417.13,1049.38 L1417.13,1048.88 L1417.13,1048.38 L1417.13,1047.87 L1417.13,1047.37 L1417.13,1046.87 L1417.13,1046.37 L1417.13,1045.87 L1417.13,1045.37 L1417.13,1044.87 L1417.13,1044.37 L1417.13,1043.87 L1417.13,1043.37 L1417.13,1042.87 L1417.13,1042.37 L1417.13,1041.87 L1417.13,1041.37 L1417.13,1040.87 L1417.13,1040.37 L1417.13,1039.87 L1417.13,1039.37 L1417.13,1038.87 L1417.13,1038.37 L1417.13,1037.87 L1417.13,1037.37 L1417.13,1036.87 L1417.13,1036.37 L1417.13,1035.87 L1417.13,1035.37 L1417.13,1034.87 L1417.13,1034.37 L1417.13,1033.87 L1417.13,1033.37 L1417.13,1032.87 L1417.13,1032.37 L1417.13,1031.87 L1417.13,1031.37 L1417.13,1030.87 L1417.13,1030.36 L1417.13,1029.86 L1417.13,1029.36 L1417.13,1028.86 L1417.13,1028.36 L1417.13,1027.86 L1417.13,1027.36 L1417.13,1026.86 L1417.13,1026.36 L1417.13,1025.86 L1417.13,1025.36 L1417.13,1024.86 L1417.13,1024.36 L1417.13,1023.86 L1417.13,1023.36 L1417.13,1022.86 L1417.13,1022.36 L1417.13,1021.86 L1417.13,1021.36 L1417.13,1020.86 L1417.13,1020.36 L1417.13,1019.86 L1417.13,1019.36 L1417.13,1018.86 L1417.13,1018.36 L1417.13,1017.86 L1417.13,1017.36 L1417.13,1016.86 L1417.13,1016.36 L1417.13,1015.86 L1417.13,1015.36 L1417.13,1014.86 L1417.13,1014.36 L1417.13,1013.86 L1417.13,1013.35 L1417.13,1012.85 L1417.13,1012.35 L1417.13,1011.85 L1417.13,1011.35 L1417.13,1010.85 L1417.13,1010.35 L1417.13,1009.85 L1417.13,1009.35 L1417.13,1008.85 L1417.13,1008.35 L1417.13,1007.85 L1417.13,1007.35 L1417.13,1006.85 L1417.13,1006.35 L1417.13,1005.85 L1417.13,1005.35 L1417.13,1004.85 L1417.13,1004.35 L1417.13,1003.85 L1417.13,1003.35 L1417.13,1002.85 L1417.13,1002.35 L1417.13,1001.85 L1417.13,1001.35 L1417.13,1000.85 L1417.13,1000.35 L1417.13,999.85 L1417.13,999.35 L1417.13,998.85 L1417.13,998.35 L1417.13,997.85 L1417.13,997.35 L1417.14,996.85 L1417.14,996.35 L1417.14,995.84 L1417.14,995.34 L1417.14,994.84 L1417.14,994.34 L1417.14,993.84 L1417.14,993.34 L1417.14,992.84 L1417.14,992.34 L1417.14,991.84 L1417.14,991.34 L1417.14,990.84 L1417.14,990.34 L1417.14,989.84 L1417.14,989.34 L1417.14,988.84 L1417.14,988.34 L1417.14,987.84 L1417.14,987.34 L1417.14,986.84 L1417.14,986.34 L1417.14,985.84 L1417.14,985.34 L1417.14,984.84 L1417.14,984.34 L1417.14,983.84 L1417.14,983.34 L1417.14,982.84 L1417.14,982.34 L1417.14,981.84 L1417.14,981.34 L1417.14,980.84 L1417.14,980.34 L1417.14,979.84 L1417.14,979.34 L1417.14,978.84 L1417.14,978.33 L1417.14,977.83 L1417.14,977.33 L1417.14,976.83 L1417.14,976.33 L1417.14,975.83 L1417.14,975.33 L1417.14,974.83 L1417.14,974.33 L1417.14,973.83 L1417.14,973.33 L1417.14,972.83 L1417.14,972.33 L1417.14,971.83 L1417.14,971.33 L1417.14,970.83 L1417.14,970.33 L1417.14,969.83 L1417.14,969.33 L1417.14,968.83 L1417.14,968.33 L1417.14,967.83 L1417.14,967.33 L1417.14,966.83 L1417.14,966.33 L1417.14,965.83 L1417.14,965.33 L1417.14,964.83 L1417.14,964.33 L1417.14,963.83 L1417.14,963.33 L1417.14,962.83 L1417.14,962.33 L1417.14,961.83 L1417.14,961.32 L1417.14,960.82 L1417.14,960.32 L1417.14,959.82 L1417.14,959.32 L1417.14,958.82 L1417.14,958.32 L1417.14,957.82 L1417.14,957.32 L1417.14,956.82 L1417.14,956.32 L1417.14,955.82 L1417.14,955.32 L1417.14,954.82 L1417.14,954.32 L1417.14,953.82 L1417.14,953.32 L1417.14,952.82 L1417.14,952.32 L1417.14,951.82 L1417.14,951.32 L1417.14,950.82 L1417.14,950.32 L1417.14,949.82 L1417.14,949.32 L1417.14,948.82 L1417.14,948.32 L1417.14,947.82 L1417.14,947.32 L1417.14,946.82 L1417.14,946.32 L1417.14,945.82 L1417.14,945.32 L1417.14,944.82 L1417.14,944.32 L1417.14,943.81 L1417.14,943.31 L1417.14,942.81 L1417.14,942.31 L1417.14,941.81 L1417.14,941.31 L1417.14,940.81 L1417.14,940.31 L1417.14,939.81 L1417.14,939.31 L1417.14,938.81 L1417.14,938.31 L1417.14,937.81 L1417.15,937.31 L1417.15,936.81 L1417.15,936.31 L1417.15,935.81 L1417.15,935.31 L1417.15,934.81 L1417.15,934.31 L1417.15,933.81 L1417.15,933.31 L1417.15,932.81 L1417.15,932.31 L1417.15,931.81 L1417.15,931.31 L1417.15,930.81 L1417.15,930.31 L1417.15,929.81 L1417.15,929.31 L1417.15,928.81 L1417.15,928.31 L1417.15,927.81 L1417.15,927.31 L1417.15,926.80 L1417.15,926.30 L1417.15,925.80 L1417.15,925.30 L1417.15,924.80 L1417.15,924.30 L1417.15,923.80 L1417.15,923.30 L1417.15,922.80 L1417.15,922.30 L1417.15,921.80 L1417.15,921.30 L1417.15,920.80 L1417.15,920.30 L1417.15,919.80 L1417.15,919.30 L1417.15,918.80 L1417.15,918.30 Z" fill="#f6a326" stroke="#111" stroke-width="2.5" stroke-linejoin="round"/>
<line x1="1371.6" y1="1413.8" x2="1463.6" y2="1413.8" stroke="#111" stroke-width="3.6" stroke-linecap="butt"/>
<text id="t70" transform="translate(1183.60 1459.55) rotate(-45)" font-size="37.4" text-anchor="end" font-weight="normal" font-style="normal" fill="#000">Worldwide</text>
<text id="t71" transform="translate(1321.60 1459.05) rotate(-45)" font-size="37.4" text-anchor="end" font-weight="normal" font-style="normal" fill="#000">Swedish</text>
<text id="t72" transform="translate(1442.00 1459.80) rotate(-45)" font-size="37.4" text-anchor="end" font-weight="normal" font-style="normal" fill="#000">Random</text>
</svg>
</body></html>
